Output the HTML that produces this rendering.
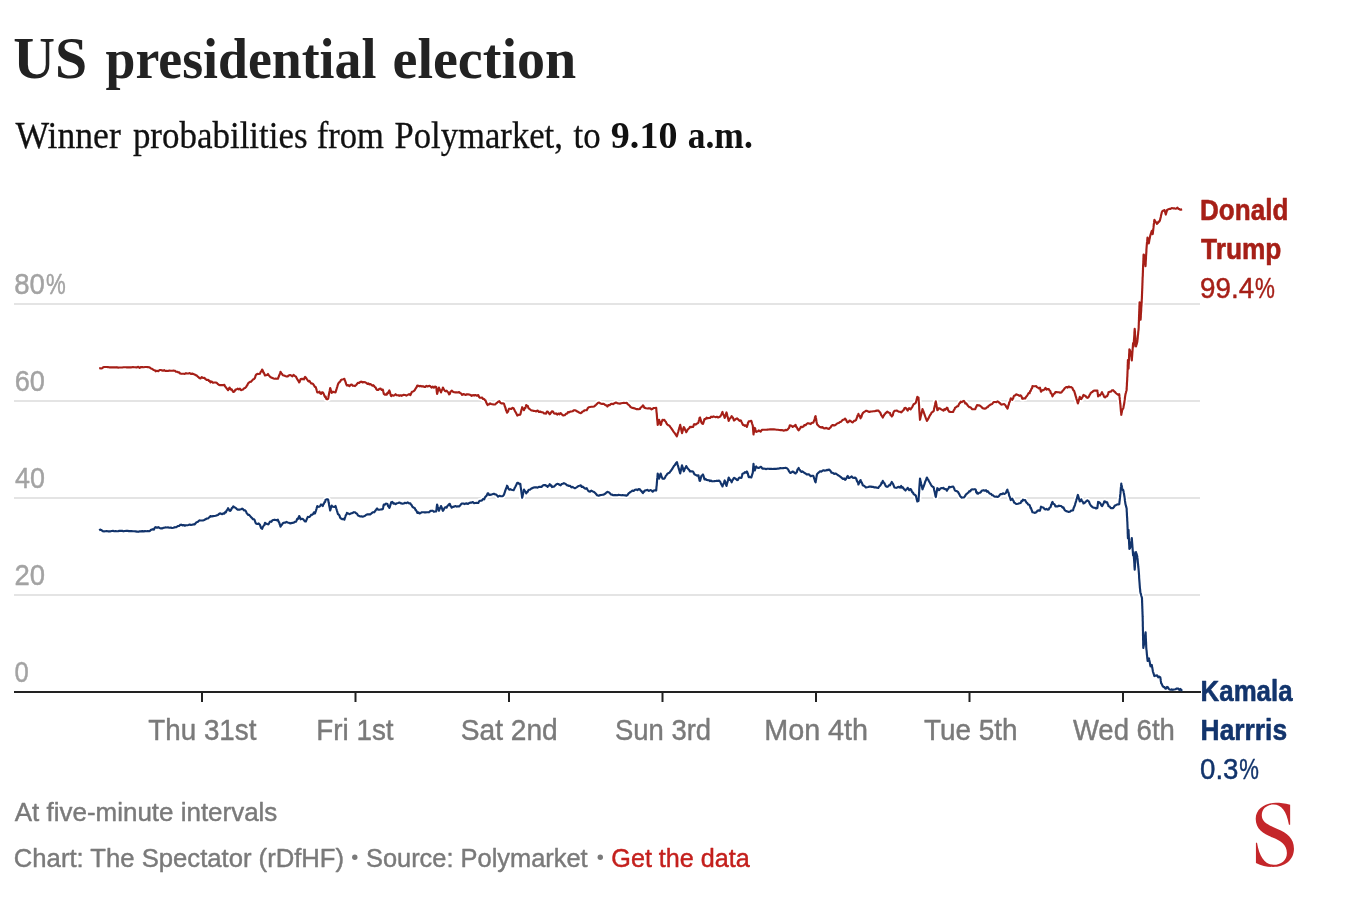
<!DOCTYPE html>
<html><head><meta charset="utf-8"><title>US presidential election</title>
<style>
html,body{margin:0;padding:0;background:#fff;}
body{width:1354px;height:918px;overflow:hidden;position:relative;}
svg{position:absolute;left:0;top:0;display:block;opacity:0.999;will-change:transform;}
text{font-family:"Liberation Sans",sans-serif;}
.serif{font-family:"Liberation Serif",serif;}
.b{font-weight:bold;}
.xl{font-size:28px;fill:#7f7f7f;text-anchor:middle;}
</style></head><body>
<svg width="1354" height="918" viewBox="0 0 1354 918">
<rect width="1354" height="918" fill="#fff"/>
<!-- grid -->
<g fill="#e4e4e4">
<rect x="14" y="303" width="1186" height="2"/>
<rect x="14" y="400" width="1186" height="2"/>
<rect x="14" y="497" width="1186" height="2"/>
<rect x="14" y="594" width="1186" height="2"/>
</g>
<!-- lines -->
<g fill="none" stroke-linejoin="round" stroke-linecap="butt">
<path d="M99.2,530.3 L100.2,529.6 L101.1,529.9 L102.1,530.6 L103.0,531.3 L104.0,531.4 L105.3,531.3 L106.6,531.1 L107.9,531.3 L109.2,531.3 L110.5,531.3 L111.8,531.0 L113.0,530.9 L114.3,531.2 L115.6,531.1 L116.9,531.2 L118.2,531.1 L119.5,530.9 L120.8,530.9 L122.2,530.9 L123.5,531.3 L124.9,531.0 L126.2,530.9 L127.6,530.9 L128.9,531.1 L130.3,531.1 L131.6,531.1 L133.0,531.2 L134.3,531.2 L135.6,531.4 L137.0,531.6 L138.3,531.8 L139.7,531.4 L141.0,531.4 L142.3,531.1 L143.7,531.4 L145.1,531.1 L146.4,531.2 L147.8,531.0 L149.1,531.2 L150.1,530.7 L151.0,529.8 L152.0,529.6 L152.9,529.1 L153.8,529.7 L154.8,527.7 L155.7,527.1 L157.0,527.8 L158.3,527.2 L159.6,528.0 L160.9,528.4 L162.0,528.4 L163.1,527.9 L164.2,527.8 L165.3,527.4 L166.7,527.5 L168.0,527.4 L169.4,527.7 L170.8,527.6 L172.1,528.0 L173.5,527.8 L174.7,527.2 L175.9,527.3 L177.1,526.6 L178.1,526.0 L179.1,525.9 L180.1,524.9 L181.3,524.7 L182.5,525.4 L183.6,525.0 L184.8,525.7 L186.0,525.2 L187.2,525.3 L188.5,525.0 L189.7,524.5 L190.9,525.0 L192.2,524.7 L193.4,524.4 L194.5,524.5 L195.6,523.2 L196.5,522.3 L197.4,522.0 L198.4,521.3 L199.3,520.4 L200.5,520.5 L201.8,520.5 L203.0,520.4 L204.3,520.0 L205.6,519.2 L206.9,518.5 L208.2,518.5 L208.9,517.5 L209.7,517.1 L210.4,516.0 L211.7,516.5 L213.0,516.1 L214.4,516.0 L215.7,515.8 L217.0,515.3 L218.0,514.9 L219.0,514.0 L220.0,513.3 L221.1,513.7 L222.2,514.2 L223.3,513.4 L224.4,513.6 L225.1,512.2 L225.9,512.3 L226.6,510.5 L227.4,509.7 L228.1,508.2 L228.6,509.4 L229.1,509.5 L229.6,510.8 L230.3,510.9 L231.1,509.8 L231.8,508.2 L232.6,507.6 L233.3,506.4 L234.4,507.3 L235.5,507.7 L236.6,508.8 L237.7,509.7 L238.8,509.6 L239.9,509.6 L241.0,509.2 L242.1,508.6 L243.0,509.2 L243.9,510.4 L244.9,510.2 L245.8,511.1 L246.4,512.4 L246.9,513.4 L247.4,513.8 L248.0,514.8 L249.0,514.8 L250.0,515.9 L251.0,517.1 L252.0,518.0 L253.0,519.2 L254.0,519.3 L254.6,520.0 L255.1,521.5 L255.6,522.9 L256.2,523.7 L257.4,524.0 L258.7,523.4 L259.9,524.7 L260.4,526.1 L261.0,527.8 L261.6,528.3 L262.1,528.9 L262.7,527.3 L263.3,526.3 L263.8,525.4 L264.4,525.1 L265.0,522.9 L266.0,523.7 L267.0,523.9 L268.0,524.4 L268.7,524.1 L269.5,522.4 L270.2,521.5 L271.3,521.8 L272.4,520.3 L273.5,520.0 L274.6,519.7 L275.7,520.0 L276.8,520.3 L277.9,519.7 L278.3,521.1 L278.8,522.1 L279.2,522.4 L279.6,524.0 L280.1,525.2 L280.5,526.6 L281.3,525.2 L282.0,524.6 L282.8,523.2 L284.0,522.6 L285.3,522.7 L286.5,521.9 L287.7,522.4 L288.8,522.8 L290.0,523.4 L291.2,523.1 L292.4,522.9 L293.5,522.8 L294.7,521.9 L295.9,521.8 L296.6,520.5 L297.2,518.9 L297.9,519.0 L298.5,517.8 L299.2,516.0 L299.7,517.0 L300.1,518.0 L300.6,519.3 L302.0,518.8 L303.3,519.3 L303.9,520.1 L304.5,520.9 L305.1,521.5 L305.8,521.5 L306.5,519.8 L307.1,518.5 L307.8,516.9 L308.5,517.0 L309.4,517.0 L310.4,516.0 L311.3,514.7 L312.2,514.8 L313.1,514.0 L314.0,512.3 L314.9,513.5 L315.8,511.1 L316.2,509.8 L316.6,508.6 L316.9,507.3 L317.3,506.0 L318.4,506.8 L319.5,506.7 L320.2,505.8 L321.0,504.5 L321.9,505.2 L322.8,506.0 L323.4,504.0 L323.9,503.8 L324.5,502.1 L325.1,502.0 L325.6,499.8 L326.2,499.6 L327.1,499.2 L328.1,499.6 L328.4,501.0 L328.6,502.3 L328.9,503.6 L329.1,505.0 L329.4,506.4 L329.7,507.7 L329.9,509.0 L330.2,510.4 L330.6,509.2 L330.9,507.9 L331.3,506.7 L331.7,505.5 L332.4,506.6 L333.1,506.7 L334.3,507.0 L335.5,506.0 L335.9,507.2 L336.2,508.3 L336.6,509.5 L336.9,510.6 L337.3,511.8 L337.6,512.9 L338.0,514.1 L338.8,514.7 L339.5,515.7 L340.2,517.8 L341.0,518.5 L342.1,519.2 L343.3,518.8 L344.4,519.6 L344.8,518.2 L345.2,517.1 L345.6,515.8 L346.1,514.8 L346.5,514.5 L346.9,512.9 L348.1,513.4 L349.4,514.2 L350.6,513.6 L351.7,513.2 L352.8,512.9 L353.9,512.2 L355.0,512.3 L355.8,513.1 L356.5,513.4 L357.2,514.0 L358.0,515.6 L359.2,516.0 L360.4,516.5 L361.5,516.4 L362.7,516.7 L363.9,516.3 L365.1,515.8 L366.3,514.7 L367.5,514.4 L368.5,514.4 L369.5,514.2 L370.5,514.4 L371.4,513.4 L372.4,512.6 L373.3,512.2 L374.2,512.3 L374.9,511.3 L375.6,510.5 L376.4,509.3 L377.1,508.5 L378.2,509.7 L379.4,509.7 L380.5,509.5 L381.7,509.4 L382.8,508.9 L383.1,507.8 L383.3,506.7 L383.6,505.6 L383.8,504.5 L384.8,504.7 L385.8,503.6 L386.8,503.7 L387.4,503.9 L388.1,506.1 L388.7,506.6 L389.3,507.9 L389.7,507.3 L390.1,505.8 L390.4,505.0 L390.8,503.7 L391.2,502.3 L392.3,501.9 L393.4,503.6 L394.5,503.4 L395.6,504.2 L396.8,503.3 L398.1,503.0 L399.3,502.6 L400.4,503.1 L401.5,503.4 L402.6,503.7 L403.7,503.5 L405.0,502.8 L406.4,503.2 L407.7,502.4 L409.1,503.3 L410.4,503.3 L411.0,504.7 L411.7,505.2 L412.3,506.7 L413.1,507.3 L414.0,507.8 L414.8,508.2 L415.4,509.8 L416.1,510.2 L416.7,511.4 L417.3,512.9 L418.4,512.4 L419.5,513.4 L420.7,512.9 L421.8,512.3 L422.9,512.2 L424.1,512.3 L425.3,512.3 L426.4,512.3 L427.6,512.2 L428.8,512.3 L429.7,511.7 L430.6,510.8 L431.5,510.8 L432.7,510.7 L433.9,511.8 L435.0,511.5 L436.2,511.4 L436.4,510.0 L436.6,508.6 L436.7,507.3 L436.9,505.9 L437.1,504.5 L437.5,505.8 L437.8,507.0 L438.2,508.3 L438.5,509.5 L438.9,510.8 L439.4,509.6 L439.9,508.3 L440.5,507.2 L441.0,506.0 L441.5,507.3 L441.9,508.1 L442.4,509.7 L442.9,510.8 L443.6,509.8 L444.4,508.2 L445.1,507.4 L445.9,507.2 L446.6,507.7 L447.2,506.4 L447.9,505.4 L448.6,505.3 L449.2,504.0 L449.8,503.9 L450.4,505.7 L451.1,506.5 L451.7,507.7 L452.9,506.9 L454.2,506.6 L455.4,506.0 L456.6,506.6 L457.9,506.3 L459.1,506.4 L460.1,505.4 L461.1,504.2 L462.1,503.5 L463.3,503.5 L464.5,504.1 L465.6,503.6 L466.8,503.4 L468.0,504.0 L469.2,503.0 L470.5,502.6 L471.7,502.6 L472.9,502.1 L474.1,503.2 L475.2,503.0 L476.4,502.8 L477.6,503.0 L478.3,502.9 L479.1,501.3 L479.8,500.8 L480.9,500.7 L482.0,500.4 L483.1,499.0 L484.2,499.3 L484.9,497.5 L485.6,496.6 L486.2,496.1 L486.9,495.1 L487.6,493.4 L488.4,493.4 L489.2,494.9 L490.0,495.0 L491.1,494.6 L492.2,494.3 L493.3,493.9 L494.4,493.9 L495.3,494.5 L496.2,494.5 L497.2,495.6 L498.1,496.7 L499.3,495.8 L500.5,496.1 L501.6,496.3 L502.8,496.2 L504.0,494.6 L504.4,493.3 L504.9,491.8 L505.3,490.7 L505.7,489.4 L506.1,488.5 L506.6,487.0 L507.0,485.7 L507.6,486.4 L508.1,488.1 L508.6,488.9 L509.2,489.7 L510.3,489.1 L511.4,489.7 L512.5,490.0 L513.6,490.2 L514.2,489.0 L514.8,487.7 L515.5,486.5 L516.1,485.3 L516.7,484.0 L517.3,482.8 L518.3,482.8 L519.3,484.1 L520.3,483.8 L520.5,485.1 L520.6,486.3 L520.8,487.6 L521.0,488.9 L521.2,490.2 L521.3,491.4 L521.5,492.7 L521.7,494.0 L521.9,495.3 L522.0,496.5 L522.2,497.8 L522.5,496.6 L522.7,495.4 L523.0,494.2 L523.2,493.1 L523.5,491.9 L523.7,490.7 L524.0,489.5 L524.5,490.6 L525.1,491.6 L525.7,491.8 L526.2,493.4 L526.9,492.4 L527.7,491.9 L528.4,490.1 L529.1,489.7 L530.2,489.6 L531.4,488.4 L532.5,488.2 L533.6,487.5 L534.9,487.3 L536.2,487.3 L537.6,487.6 L538.9,486.8 L540.2,486.8 L541.5,487.0 L542.8,485.6 L544.1,485.1 L545.4,485.0 L546.1,485.9 L546.9,485.8 L547.6,486.8 L548.3,485.7 L549.1,485.4 L549.8,484.1 L550.5,485.6 L551.3,485.4 L552.0,487.1 L553.0,486.7 L554.1,486.6 L555.1,485.6 L556.2,484.4 L557.2,483.8 L558.3,484.0 L559.5,484.7 L560.6,485.3 L561.7,484.1 L562.8,483.7 L563.9,483.1 L564.9,483.6 L565.9,484.2 L567.0,485.3 L568.0,485.3 L569.0,486.0 L570.2,485.8 L571.4,487.3 L572.5,486.9 L573.7,487.6 L574.9,488.2 L576.1,487.6 L577.3,486.9 L578.4,486.0 L579.6,485.8 L580.8,485.3 L581.7,486.9 L582.6,486.5 L583.6,487.4 L584.5,488.2 L585.6,488.7 L586.7,488.2 L587.4,489.5 L588.0,490.5 L588.7,491.2 L590.1,491.7 L591.4,490.7 L592.8,491.4 L594.1,491.9 L595.1,492.9 L596.1,494.0 L597.1,495.2 L598.1,495.6 L599.2,495.6 L600.3,495.1 L601.5,495.0 L602.6,494.7 L603.7,494.6 L604.6,494.0 L605.5,493.5 L606.5,492.4 L607.4,491.9 L608.5,492.2 L609.6,492.9 L610.8,494.4 L611.9,494.6 L613.2,495.2 L614.5,495.1 L615.9,495.1 L617.2,495.2 L618.5,494.9 L619.9,495.0 L621.2,495.2 L622.5,495.1 L623.9,495.3 L625.2,495.4 L626.6,495.6 L627.6,494.9 L628.6,493.4 L629.6,492.7 L630.6,491.9 L631.5,491.4 L632.5,490.5 L633.7,490.9 L635.0,489.8 L636.2,489.6 L637.4,490.1 L638.7,489.1 L639.9,489.4 L640.6,490.5 L641.4,491.0 L642.1,492.1 L642.9,493.1 L643.5,491.5 L644.2,491.7 L644.8,490.5 L646.2,490.2 L647.5,489.9 L648.9,491.0 L650.3,490.0 L651.5,490.4 L652.7,491.7 L653.8,490.5 L655.0,490.3 L656.2,490.5 L656.3,489.2 L656.4,487.9 L656.5,486.6 L656.7,485.3 L656.8,484.0 L656.9,482.7 L657.0,481.3 L657.1,480.0 L657.2,478.7 L657.4,477.4 L657.5,476.1 L657.6,474.8 L657.7,473.5 L658.1,474.8 L658.4,476.1 L658.8,477.3 L659.1,478.6 L659.5,477.3 L659.9,476.1 L660.2,474.8 L660.6,473.5 L661.1,474.8 L661.5,476.7 L662.0,477.3 L662.5,478.6 L663.4,478.8 L664.3,478.6 L665.0,477.6 L665.8,475.9 L666.5,475.1 L667.3,473.9 L668.4,473.1 L669.5,472.7 L670.2,471.5 L671.0,470.7 L671.7,469.6 L672.5,468.5 L673.2,467.3 L673.9,466.1 L674.7,465.3 L675.4,464.2 L676.2,462.9 L676.9,462.1 L677.3,463.4 L677.6,464.6 L678.0,465.9 L678.4,467.2 L678.7,468.4 L679.1,469.7 L679.5,471.0 L679.8,472.2 L680.2,473.5 L680.5,472.1 L680.8,470.8 L681.1,469.4 L681.4,468.0 L681.7,466.7 L682.0,465.3 L682.4,466.5 L682.7,467.7 L683.1,468.9 L683.4,470.1 L683.8,471.3 L684.3,470.2 L684.8,468.6 L685.2,468.2 L685.7,467.2 L686.2,466.1 L687.0,467.3 L687.7,468.4 L688.5,469.4 L689.2,469.9 L690.0,471.5 L691.0,471.3 L692.0,471.3 L693.0,471.5 L693.5,472.3 L693.9,473.4 L694.4,474.2 L695.6,474.9 L696.9,475.7 L698.1,475.4 L698.5,475.4 L698.9,477.8 L699.2,478.6 L699.6,480.8 L700.0,480.9 L700.4,479.6 L700.8,478.3 L701.1,477.0 L701.5,475.7 L702.2,475.5 L703.0,474.5 L703.4,475.7 L703.8,476.9 L704.1,478.2 L704.5,479.4 L705.6,478.9 L706.6,480.0 L707.7,480.1 L708.8,480.2 L710.0,481.1 L711.1,480.6 L712.2,481.3 L713.4,481.2 L714.6,481.1 L715.7,481.0 L716.9,480.7 L718.1,480.9 L719.2,480.6 L720.3,481.9 L720.8,483.2 L721.4,484.6 L722.0,485.3 L722.5,486.5 L722.9,484.9 L723.4,484.1 L723.8,483.1 L724.3,481.5 L724.7,480.4 L725.1,481.5 L725.4,482.6 L725.8,483.8 L726.1,484.9 L726.5,486.0 L726.8,484.8 L727.1,483.6 L727.4,482.4 L727.8,481.1 L728.1,479.9 L728.4,478.7 L728.7,477.5 L729.3,478.5 L729.9,480.0 L730.5,479.9 L731.1,481.1 L731.7,482.3 L732.3,480.4 L732.9,479.8 L733.4,478.7 L734.0,477.9 L735.0,478.2 L736.0,479.1 L737.0,480.1 L737.8,480.0 L738.7,478.3 L739.5,477.5 L740.2,477.7 L741.0,477.9 L741.5,477.7 L742.0,475.7 L742.4,473.9 L742.9,473.5 L743.9,473.2 L744.9,472.1 L745.9,472.7 L746.9,471.5 L747.3,472.1 L747.7,473.5 L748.0,474.2 L748.4,476.1 L748.8,477.2 L750.0,476.9 L751.3,477.5 L751.7,476.3 L752.0,475.1 L752.4,473.9 L752.8,472.7 L752.9,471.4 L753.0,470.2 L753.1,468.9 L753.2,467.7 L753.3,466.4 L753.4,465.2 L753.5,463.9 L753.7,465.2 L754.0,466.5 L754.2,467.9 L754.5,469.2 L754.7,470.5 L755.1,469.5 L755.5,468.3 L755.8,467.2 L756.2,466.5 L757.0,467.4 L757.9,467.9 L758.7,468.0 L759.7,467.4 L760.6,466.8 L761.5,467.3 L762.4,468.6 L763.7,468.5 L765.0,468.7 L766.3,469.1 L767.5,468.7 L768.8,468.8 L770.1,468.8 L771.4,468.8 L772.7,469.0 L774.0,468.8 L775.3,468.8 L776.6,468.8 L777.9,468.6 L779.3,468.4 L780.6,468.1 L781.9,468.2 L783.2,468.1 L784.5,468.0 L785.6,467.8 L786.7,468.2 L787.8,469.0 L788.4,470.0 L789.1,471.4 L789.8,472.3 L790.4,473.0 L791.5,472.3 L792.7,471.5 L793.7,472.0 L794.6,473.0 L795.6,473.5 L796.2,472.4 L796.8,472.2 L797.4,469.7 L798.0,468.9 L798.6,468.0 L799.3,469.7 L800.1,470.2 L800.8,471.5 L801.5,472.0 L802.3,471.3 L803.4,472.1 L804.5,473.0 L805.6,473.5 L806.7,474.5 L808.0,474.2 L809.3,474.6 L810.7,476.2 L812.0,475.7 L813.3,475.7 L813.8,477.3 L814.2,478.7 L814.7,479.9 L815.1,481.4 L815.6,482.3 L815.8,480.9 L816.1,479.6 L816.3,478.2 L816.5,476.9 L816.8,475.6 L817.0,474.2 L818.0,473.1 L819.0,472.2 L820.0,471.3 L821.2,471.6 L822.4,470.8 L823.5,470.3 L824.7,470.6 L825.9,470.5 L827.0,469.9 L828.0,470.1 L829.1,469.5 L829.9,470.3 L830.7,471.2 L831.5,472.7 L832.8,472.8 L834.2,473.9 L835.5,473.5 L836.6,474.2 L837.7,475.0 L838.8,475.7 L839.9,476.4 L840.9,477.2 L842.0,478.1 L843.0,479.0 L844.1,478.4 L845.1,479.8 L845.8,479.4 L846.5,477.9 L847.1,476.8 L847.8,476.0 L848.6,478.0 L849.5,477.9 L850.6,477.1 L851.7,476.4 L852.8,477.8 L854.0,477.9 L855.1,477.6 L856.2,478.6 L856.6,480.0 L857.1,481.3 L857.5,482.1 L858.0,482.3 L858.4,484.5 L859.0,483.3 L859.5,482.2 L860.0,480.7 L860.6,480.1 L861.0,481.9 L861.5,482.1 L861.9,483.1 L862.4,484.1 L862.8,485.3 L863.8,485.7 L864.8,486.4 L865.8,487.5 L867.0,487.2 L868.3,487.0 L869.5,486.5 L870.8,486.6 L872.0,486.9 L873.3,486.9 L874.5,487.4 L875.8,487.4 L877.0,487.7 L878.3,487.9 L879.0,486.7 L879.8,486.0 L880.5,485.3 L881.1,484.3 L881.6,482.6 L882.2,483.0 L882.8,480.9 L883.3,481.8 L883.9,482.7 L884.5,483.3 L885.0,484.5 L885.7,485.9 L886.5,486.6 L887.2,486.8 L888.1,486.4 L889.1,485.2 L890.0,485.3 L890.6,484.0 L891.2,483.3 L891.8,481.9 L892.3,482.8 L892.8,483.6 L893.4,484.8 L893.9,486.1 L894.4,487.5 L895.5,487.7 L896.6,487.8 L897.7,487.1 L898.9,486.9 L900.0,487.6 L901.1,486.0 L902.0,487.6 L902.9,487.4 L903.7,488.8 L904.6,489.6 L905.5,490.5 L906.2,489.5 L907.0,489.1 L907.7,487.8 L908.2,488.5 L908.7,489.3 L909.2,490.2 L910.0,489.4 L910.7,489.0 L911.3,490.0 L911.9,491.6 L912.4,492.4 L913.0,492.5 L913.6,494.1 L914.7,494.7 L915.8,495.6 L916.1,496.8 L916.4,498.0 L916.7,499.1 L917.0,500.3 L917.3,501.5 L918.5,500.8 L918.6,499.4 L918.7,498.0 L918.8,496.6 L918.9,495.2 L919.0,493.9 L919.1,492.5 L919.2,491.1 L919.2,489.7 L919.3,488.3 L919.4,486.9 L919.5,485.5 L919.6,484.2 L919.7,482.8 L919.8,481.4 L919.9,480.0 L920.0,478.6 L920.3,479.9 L920.6,481.3 L920.9,482.6 L921.2,484.0 L921.6,485.3 L921.9,486.6 L922.2,488.0 L922.5,489.3 L923.0,487.9 L923.5,486.8 L924.0,485.4 L924.5,484.2 L924.9,482.7 L925.4,481.2 L925.9,480.2 L926.4,478.8 L926.9,477.5 L927.6,478.8 L928.3,479.8 L929.0,481.2 L929.6,482.3 L930.3,483.5 L931.0,484.8 L931.7,486.0 L932.7,486.7 L933.6,487.2 L933.9,488.4 L934.1,489.7 L934.4,490.9 L934.7,492.1 L935.0,493.4 L935.2,494.6 L935.5,495.9 L935.8,497.1 L936.0,495.8 L936.2,494.6 L936.4,493.3 L936.7,492.0 L936.9,490.7 L937.1,489.5 L937.3,488.2 L938.1,488.8 L939.0,490.2 L940.1,488.9 L941.2,488.0 L942.4,488.2 L943.5,487.8 L944.4,489.0 L945.2,489.2 L946.0,489.0 L946.9,490.7 L947.5,489.4 L948.0,488.9 L948.5,488.5 L949.1,486.8 L950.5,487.2 L951.8,486.8 L953.2,486.5 L953.7,487.6 L954.1,488.1 L954.5,489.3 L955.0,490.5 L956.1,490.9 L957.1,491.3 L958.2,492.2 L958.8,493.4 L959.4,494.3 L960.0,495.7 L960.6,496.7 L961.7,497.6 L962.8,497.5 L963.9,497.5 L964.6,496.8 L965.3,495.6 L966.1,494.2 L966.8,493.9 L967.5,493.1 L968.4,492.6 L969.3,491.2 L970.2,491.3 L971.1,489.9 L972.0,489.3 L973.1,489.5 L974.3,489.2 L975.4,489.3 L975.8,489.8 L976.2,492.2 L976.7,491.9 L977.1,493.4 L978.1,493.6 L979.1,492.7 L980.1,492.7 L980.8,492.1 L981.6,490.9 L982.3,490.5 L983.5,490.2 L984.8,490.7 L986.0,490.2 L986.9,491.7 L987.8,491.2 L988.6,492.3 L989.5,493.4 L990.4,493.7 L991.3,494.1 L992.2,495.3 L993.2,495.4 L994.1,496.4 L995.2,496.7 L996.4,496.6 L997.5,496.9 L998.6,496.4 L999.3,495.8 L1000.1,494.4 L1000.8,494.1 L1001.9,494.2 L1003.0,493.3 L1004.1,493.9 L1005.2,493.4 L1005.8,493.1 L1006.3,491.8 L1006.9,490.4 L1007.4,489.7 L1007.8,491.3 L1008.1,492.0 L1008.5,492.5 L1008.9,494.0 L1009.2,495.9 L1009.6,496.4 L1010.0,497.6 L1010.4,498.9 L1010.8,500.1 L1011.5,499.2 L1012.3,498.6 L1012.8,499.7 L1013.2,500.5 L1013.6,500.9 L1014.1,502.6 L1015.0,502.9 L1015.8,503.7 L1016.7,504.0 L1018.0,503.8 L1019.4,503.3 L1020.7,503.0 L1021.4,501.0 L1022.2,501.2 L1022.9,499.6 L1024.0,500.2 L1025.2,500.1 L1025.9,501.6 L1026.7,502.8 L1027.4,503.2 L1028.1,504.5 L1028.8,504.6 L1029.6,505.2 L1030.1,506.5 L1030.6,508.3 L1031.0,508.0 L1031.5,509.8 L1032.0,510.8 L1032.5,512.3 L1033.7,512.5 L1035.0,512.9 L1036.2,512.3 L1036.9,511.5 L1037.7,510.5 L1038.4,510.4 L1039.2,510.6 L1039.9,510.8 L1040.2,509.8 L1040.5,508.8 L1040.7,507.7 L1041.0,506.7 L1042.1,507.3 L1043.3,507.5 L1044.4,508.9 L1045.5,509.4 L1046.6,508.9 L1047.7,509.6 L1048.8,509.4 L1049.5,507.8 L1050.3,507.4 L1050.7,506.8 L1051.2,504.6 L1051.6,504.6 L1052.1,502.3 L1052.5,502.0 L1053.2,503.7 L1054.0,504.0 L1054.7,504.6 L1055.4,506.4 L1056.6,506.2 L1057.8,506.4 L1058.9,505.7 L1060.1,505.9 L1061.3,506.0 L1062.0,507.0 L1062.8,507.7 L1063.5,507.4 L1064.3,509.3 L1065.0,510.4 L1066.2,511.1 L1067.5,511.5 L1068.7,511.9 L1069.9,511.8 L1071.2,510.6 L1072.4,510.4 L1073.0,510.4 L1073.5,508.5 L1074.0,507.2 L1074.6,506.0 L1075.0,504.8 L1075.3,503.5 L1075.7,502.3 L1076.1,501.1 L1076.4,499.8 L1076.8,498.6 L1077.2,497.4 L1077.5,496.1 L1077.9,494.9 L1078.3,496.2 L1078.7,497.5 L1079.0,498.9 L1079.4,500.2 L1079.8,501.5 L1080.5,500.9 L1081.3,499.3 L1081.8,500.8 L1082.4,501.4 L1083.0,502.2 L1083.5,503.5 L1084.5,503.1 L1085.5,502.1 L1086.5,501.1 L1087.4,500.3 L1088.3,501.0 L1089.0,501.7 L1089.6,503.5 L1090.2,504.5 L1090.9,505.6 L1091.8,506.4 L1092.6,507.2 L1093.5,507.6 L1094.8,507.8 L1096.1,508.5 L1097.4,507.9 L1097.5,506.7 L1097.7,505.5 L1097.8,504.3 L1098.0,503.1 L1098.1,501.9 L1099.0,502.2 L1100.0,503.0 L1100.7,503.9 L1101.3,505.3 L1102.0,506.2 L1102.6,505.3 L1103.2,504.1 L1103.7,503.2 L1104.3,501.4 L1105.3,501.5 L1106.2,502.5 L1107.2,502.3 L1107.6,503.8 L1108.1,504.5 L1108.5,506.2 L1109.7,506.6 L1110.8,508.1 L1111.9,508.0 L1113.1,508.2 L1113.9,507.2 L1114.8,505.5 L1115.6,505.4 L1116.4,504.9 L1117.3,504.4 L1118.3,504.5 L1119.2,504.3 L1119.4,503.0 L1119.5,501.7 L1119.7,500.3 L1119.8,499.0 L1120.0,497.7 L1120.1,496.4 L1120.2,495.1 L1120.4,493.9 L1120.5,492.6 L1120.6,491.3 L1120.7,490.0 L1120.8,488.7 L1120.9,487.4 L1121.1,486.2 L1121.2,484.9 L1121.3,483.6 L1121.5,484.9 L1121.8,486.1 L1122.0,487.4 L1122.3,488.6 L1122.8,490.2 L1123.2,489.9 L1123.5,491.2 L1123.7,492.5 L1124.0,493.8 L1124.2,495.1 L1124.4,496.4 L1124.6,497.7 L1124.8,499.0 L1124.9,500.4 L1125.1,501.7 L1125.3,503.0 L1125.5,504.3 L1125.9,505.6 L1126.2,506.9 L1126.6,508.2 L1126.7,509.5 L1126.7,510.8 L1126.8,512.1 L1126.9,513.4 L1126.9,514.7 L1127.0,516.0 L1127.1,517.4 L1127.2,518.7 L1127.2,520.0 L1127.3,521.3 L1127.4,522.6 L1127.4,523.9 L1127.5,525.2 L1127.5,526.5 L1127.6,527.8 L1127.6,529.1 L1127.7,530.4 L1127.7,531.8 L1127.7,533.1 L1127.8,534.4 L1127.8,535.7 L1127.9,537.0 L1127.9,538.3 L1128.0,537.1 L1128.1,535.9 L1128.2,534.7 L1128.2,533.4 L1128.3,532.2 L1128.4,531.0 L1128.5,529.8 L1128.6,531.2 L1128.6,532.5 L1128.7,533.9 L1128.8,535.3 L1128.8,536.7 L1128.9,538.0 L1129.0,539.4 L1129.0,540.8 L1129.1,542.1 L1129.1,543.5 L1129.2,544.9 L1129.3,546.3 L1129.3,547.6 L1129.4,549.0 L1129.9,548.3 L1130.3,547.2 L1130.8,546.1 L1131.0,544.8 L1131.1,543.4 L1131.3,542.0 L1131.5,540.7 L1131.6,539.4 L1131.8,538.0 L1131.9,539.3 L1132.0,540.7 L1132.1,542.0 L1132.2,543.3 L1132.3,544.7 L1132.4,546.0 L1132.5,547.3 L1132.6,548.6 L1132.7,550.0 L1132.8,551.3 L1132.9,552.6 L1133.0,554.0 L1133.1,555.3 L1133.3,554.2 L1133.4,553.1 L1133.6,552.0 L1133.7,553.4 L1133.8,554.7 L1133.9,556.1 L1133.9,557.4 L1134.0,558.8 L1134.1,560.1 L1134.2,561.5 L1134.3,562.8 L1134.4,564.2 L1134.4,565.5 L1134.5,566.9 L1134.6,568.2 L1134.7,569.6 L1134.8,568.3 L1134.9,567.0 L1135.0,565.7 L1135.0,564.4 L1135.1,563.1 L1135.2,561.8 L1135.3,560.5 L1135.4,559.3 L1135.5,558.1 L1135.6,556.9 L1135.7,555.6 L1135.8,554.4 L1135.9,553.2 L1136.0,552.0 L1136.3,553.1 L1136.7,554.3 L1137.0,555.5 L1137.3,556.6 L1137.4,557.9 L1137.6,559.2 L1137.7,560.5 L1137.8,561.8 L1137.9,563.1 L1138.1,564.4 L1138.2,565.7 L1138.3,567.0 L1138.5,568.3 L1138.6,569.6 L1138.7,570.9 L1138.8,572.2 L1138.9,573.4 L1139.0,574.7 L1139.1,576.0 L1139.1,577.3 L1139.2,578.6 L1139.3,579.9 L1139.4,581.1 L1139.5,582.4 L1139.6,583.7 L1139.7,585.1 L1139.8,586.4 L1139.9,587.8 L1140.1,589.1 L1140.2,590.4 L1140.3,591.8 L1140.6,593.1 L1141.0,594.4 L1141.3,595.7 L1141.7,597.0 L1142.0,598.3 L1142.0,599.7 L1142.1,601.1 L1142.1,602.5 L1142.2,603.9 L1142.2,605.3 L1142.3,606.7 L1142.3,608.1 L1142.4,609.4 L1142.4,610.8 L1142.5,612.2 L1142.5,613.6 L1142.6,615.0 L1142.6,616.4 L1142.7,617.8 L1142.7,619.2 L1142.7,620.6 L1142.8,621.9 L1142.8,623.3 L1142.8,624.7 L1142.8,626.1 L1142.9,627.4 L1142.9,628.8 L1142.9,630.2 L1143.0,631.5 L1143.0,632.9 L1143.0,634.3 L1143.0,635.7 L1143.1,637.0 L1143.1,638.4 L1143.1,639.8 L1143.2,641.1 L1143.2,642.5 L1143.2,643.9 L1143.2,645.3 L1143.3,646.6 L1143.3,648.0 L1143.5,646.7 L1143.8,645.4 L1144.0,644.0 L1144.2,642.7 L1144.4,641.4 L1144.5,640.1 L1144.7,638.8 L1144.9,637.5 L1145.1,636.2 L1145.2,634.9 L1145.4,633.6 L1145.6,632.3 L1145.7,633.6 L1145.7,634.9 L1145.8,636.2 L1145.8,637.5 L1145.9,638.8 L1145.9,640.1 L1146.0,641.5 L1146.1,642.8 L1146.1,644.1 L1146.2,645.4 L1146.2,646.7 L1146.3,648.0 L1146.4,649.3 L1146.6,650.6 L1146.7,651.9 L1146.8,653.2 L1146.9,654.5 L1147.1,655.8 L1147.2,657.1 L1147.3,658.4 L1147.5,659.7 L1147.6,661.0 L1148.1,659.7 L1148.5,658.8 L1149.0,658.4 L1149.2,659.7 L1149.5,661.0 L1149.8,662.3 L1150.0,663.7 L1150.2,665.0 L1150.5,666.3 L1151.2,665.6 L1151.8,665.0 L1152.0,666.3 L1152.2,667.6 L1152.5,668.9 L1152.7,670.2 L1152.9,671.5 L1153.3,672.6 L1153.7,673.8 L1154.0,675.0 L1154.4,676.1 L1155.8,675.6 L1157.1,675.4 L1158.2,677.3 L1159.2,676.6 L1160.3,677.4 L1160.5,678.6 L1160.7,679.8 L1160.8,680.9 L1161.0,682.1 L1161.2,683.3 L1161.8,684.0 L1162.4,685.7 L1163.0,686.3 L1163.6,687.2 L1164.5,687.1 L1165.3,688.6 L1166.2,688.5 L1166.7,687.6 L1167.1,686.9 L1167.9,687.2 L1168.7,688.8 L1169.5,689.5 L1170.7,689.7 L1171.8,689.4 L1172.9,689.8 L1174.1,689.5 L1175.4,689.3 L1176.7,688.5 L1177.6,688.6 L1178.4,688.5 L1179.3,689.8 L1180.4,689.0 L1181.4,690.2 L1182.5,690.5" stroke="#fff" stroke-width="5.5"/>
<path d="M99.2,368.1 L100.2,368.2 L101.1,368.5 L102.1,368.2 L103.0,367.4 L104.0,367.0 L105.3,367.0 L106.6,367.0 L107.9,367.1 L109.2,367.3 L110.5,367.3 L111.8,367.4 L113.0,367.3 L114.3,367.4 L115.6,367.4 L116.9,367.2 L118.2,367.6 L119.5,367.5 L120.8,367.5 L122.2,367.5 L123.5,367.2 L124.9,367.2 L126.2,367.3 L127.6,367.3 L128.9,367.3 L130.3,367.3 L131.6,367.3 L133.0,367.1 L134.3,367.2 L135.6,367.3 L137.0,367.3 L138.3,366.8 L139.7,367.8 L141.0,367.0 L142.3,367.1 L143.7,367.2 L145.1,367.0 L146.4,367.0 L147.8,367.1 L149.1,367.2 L150.1,367.7 L151.0,368.5 L152.0,368.8 L152.9,369.5 L153.8,369.9 L154.8,370.3 L155.7,371.3 L157.0,370.8 L158.3,371.2 L159.6,370.0 L160.9,370.0 L162.0,370.4 L163.1,370.7 L164.2,370.1 L165.3,371.0 L166.7,370.9 L168.0,371.0 L169.4,370.5 L170.8,370.7 L172.1,370.7 L173.5,370.6 L174.7,370.7 L175.9,371.6 L177.1,371.8 L178.1,372.3 L179.1,372.3 L180.1,373.5 L181.3,373.8 L182.5,373.7 L183.6,373.7 L184.8,373.9 L186.0,373.2 L187.2,373.5 L188.5,373.5 L189.7,373.1 L190.9,374.0 L192.2,373.6 L193.4,374.0 L194.5,374.4 L195.6,375.2 L196.5,375.4 L197.4,376.2 L198.4,377.1 L199.3,378.0 L200.5,378.5 L201.8,377.1 L203.0,378.0 L204.3,377.9 L205.6,379.1 L206.9,380.0 L208.2,379.9 L208.9,381.0 L209.7,380.8 L210.4,382.4 L211.7,381.5 L213.0,382.8 L214.4,382.5 L215.7,382.5 L217.0,383.1 L218.0,384.2 L219.0,384.9 L220.0,385.1 L221.1,385.1 L222.2,385.1 L223.3,385.1 L224.4,384.8 L225.1,386.5 L225.9,387.2 L226.6,388.3 L227.4,389.4 L228.1,390.2 L228.6,388.7 L229.1,389.0 L229.6,387.6 L230.3,388.9 L231.1,389.6 L231.8,389.4 L232.6,390.9 L233.3,392.0 L234.4,391.5 L235.5,389.6 L236.6,389.4 L237.7,388.7 L238.8,389.4 L239.9,388.7 L241.0,390.2 L242.1,389.8 L243.0,389.4 L243.9,388.5 L244.9,388.1 L245.8,387.3 L246.4,386.6 L246.9,385.5 L247.4,385.0 L248.0,383.6 L249.0,382.6 L250.0,381.9 L251.0,381.8 L252.0,380.6 L253.0,379.5 L254.0,379.1 L254.6,378.4 L255.1,377.5 L255.6,375.6 L256.2,374.7 L257.4,373.8 L258.7,374.0 L259.9,373.7 L260.4,372.6 L261.0,371.5 L261.6,371.1 L262.1,369.5 L262.7,370.3 L263.3,372.4 L263.8,372.6 L264.4,374.0 L265.0,375.5 L266.0,375.3 L267.0,375.0 L268.0,374.0 L268.7,375.3 L269.5,376.1 L270.2,376.9 L271.3,377.4 L272.4,377.9 L273.5,378.5 L274.6,378.7 L275.7,378.6 L276.8,378.8 L277.9,378.7 L278.3,377.8 L278.8,376.4 L279.2,375.6 L279.6,374.3 L280.1,373.8 L280.5,371.8 L281.3,373.1 L282.0,373.9 L282.8,375.2 L284.0,375.5 L285.3,376.1 L286.5,376.5 L287.7,376.4 L288.8,375.4 L290.0,375.0 L291.2,375.5 L292.4,376.4 L293.5,374.9 L294.7,375.8 L295.9,376.6 L296.6,377.9 L297.2,379.1 L297.9,380.2 L298.5,381.1 L299.2,382.4 L299.7,381.6 L300.1,380.3 L300.6,379.1 L302.0,378.9 L303.3,379.1 L303.9,379.4 L304.5,377.8 L305.1,376.9 L305.8,377.6 L306.5,378.7 L307.1,379.5 L307.8,380.5 L308.5,381.4 L309.4,380.8 L310.4,382.3 L311.3,383.5 L312.2,383.6 L313.1,384.0 L314.0,385.4 L314.9,386.8 L315.8,387.3 L316.2,388.6 L316.6,389.9 L316.9,391.1 L317.3,392.4 L318.4,392.4 L319.5,391.7 L320.2,393.4 L321.0,393.9 L321.9,392.4 L322.8,392.4 L323.4,393.3 L323.9,394.4 L324.5,395.9 L325.1,397.1 L325.6,396.6 L326.2,398.8 L327.1,399.3 L328.1,398.8 L328.4,397.4 L328.6,396.1 L328.9,394.8 L329.1,393.4 L329.4,392.1 L329.7,390.7 L329.9,389.4 L330.2,388.0 L330.6,389.2 L330.9,390.4 L331.3,391.7 L331.7,392.9 L332.4,391.7 L333.1,391.7 L334.3,392.3 L335.5,392.4 L335.9,391.2 L336.2,390.1 L336.6,388.9 L336.9,387.8 L337.3,386.6 L337.6,385.5 L338.0,384.3 L338.8,382.6 L339.5,382.2 L340.2,381.5 L341.0,379.9 L342.1,379.5 L343.3,379.2 L344.4,378.8 L344.8,380.3 L345.2,381.1 L345.6,382.1 L346.1,383.9 L346.5,384.8 L346.9,385.5 L348.1,385.1 L349.4,386.2 L350.6,384.8 L351.7,384.6 L352.8,385.8 L353.9,385.7 L355.0,386.1 L355.8,385.3 L356.5,384.7 L357.2,383.7 L358.0,382.8 L359.2,382.9 L360.4,381.9 L361.5,381.7 L362.7,382.5 L363.9,382.1 L365.1,382.3 L366.3,382.9 L367.5,384.0 L368.5,383.4 L369.5,384.5 L370.5,384.0 L371.4,384.8 L372.4,385.7 L373.3,385.2 L374.2,386.1 L374.9,387.1 L375.6,387.5 L376.4,389.3 L377.1,389.9 L378.2,390.0 L379.4,388.7 L380.5,388.6 L381.7,389.9 L382.8,389.5 L383.1,390.6 L383.3,391.7 L383.6,392.8 L383.8,393.9 L384.8,394.6 L385.8,394.4 L386.8,394.7 L387.4,392.8 L388.1,393.2 L388.7,391.5 L389.3,390.5 L389.7,391.4 L390.1,392.9 L390.4,394.0 L390.8,395.6 L391.2,396.1 L392.3,395.2 L393.4,395.6 L394.5,395.3 L395.6,394.2 L396.8,395.3 L398.1,395.2 L399.3,395.8 L400.4,395.3 L401.5,395.8 L402.6,395.2 L403.7,394.9 L405.0,395.0 L406.4,395.6 L407.7,394.9 L409.1,394.1 L410.4,395.1 L411.0,393.8 L411.7,392.1 L412.3,391.7 L413.1,391.5 L414.0,390.8 L414.8,390.2 L415.4,388.8 L416.1,387.8 L416.7,387.0 L417.3,385.5 L418.4,385.7 L419.5,386.3 L420.7,385.9 L421.8,386.5 L422.9,386.2 L424.1,386.8 L425.3,386.8 L426.4,385.9 L427.6,386.5 L428.8,386.1 L429.7,385.8 L430.6,386.6 L431.5,387.6 L432.7,386.6 L433.9,387.7 L435.0,386.6 L436.2,387.0 L436.4,388.4 L436.6,389.8 L436.7,391.1 L436.9,392.5 L437.1,393.9 L437.5,392.6 L437.8,391.4 L438.2,390.1 L438.5,388.9 L438.9,387.6 L439.4,388.8 L439.9,389.9 L440.5,391.2 L441.0,392.4 L441.5,391.0 L441.9,390.1 L442.4,389.6 L442.9,387.6 L443.6,388.8 L444.4,390.1 L445.1,391.0 L445.9,391.3 L446.6,390.7 L447.2,391.5 L447.9,392.0 L448.6,393.2 L449.2,394.4 L449.8,393.9 L450.4,391.9 L451.1,391.4 L451.7,390.7 L452.9,391.7 L454.2,392.2 L455.4,392.4 L456.6,392.3 L457.9,392.5 L459.1,392.0 L460.1,393.0 L461.1,393.4 L462.1,394.9 L463.3,394.1 L464.5,394.4 L465.6,395.0 L466.8,394.3 L468.0,394.4 L469.2,394.5 L470.5,395.0 L471.7,395.8 L472.9,395.1 L474.1,395.6 L475.2,395.1 L476.4,395.6 L477.6,395.4 L478.3,395.1 L479.1,397.0 L479.8,397.6 L480.9,397.7 L482.0,397.5 L483.1,399.0 L484.2,399.1 L484.9,400.2 L485.6,400.5 L486.2,402.3 L486.9,403.9 L487.6,405.0 L488.4,404.3 L489.2,404.3 L490.0,403.4 L491.1,404.0 L492.2,404.2 L493.3,404.4 L494.4,404.5 L495.3,404.4 L496.2,403.4 L497.2,402.6 L498.1,401.7 L499.3,401.2 L500.5,402.9 L501.6,403.5 L502.8,403.3 L504.0,403.8 L504.4,405.0 L504.9,406.6 L505.3,407.4 L505.7,408.9 L506.1,410.5 L506.6,411.3 L507.0,412.7 L507.6,412.0 L508.1,411.5 L508.6,409.6 L509.2,408.7 L510.3,408.8 L511.4,408.8 L512.5,407.9 L513.6,408.2 L514.2,409.4 L514.8,410.7 L515.5,412.0 L516.1,413.1 L516.7,414.3 L517.3,415.6 L518.3,414.8 L519.3,414.8 L520.3,414.6 L520.6,413.4 L520.9,412.1 L521.2,410.9 L521.6,409.7 L521.9,408.4 L522.2,407.2 L522.8,408.6 L523.4,409.2 L524.0,410.2 L524.4,408.8 L524.9,407.8 L525.3,408.2 L525.8,406.5 L526.2,405.0 L526.9,406.2 L527.7,405.8 L528.4,408.0 L529.1,408.7 L530.2,409.5 L531.4,410.5 L532.5,410.5 L533.6,410.9 L534.9,411.0 L536.2,411.4 L537.6,410.5 L538.9,411.9 L540.2,411.6 L541.5,412.2 L542.8,412.2 L544.1,413.5 L545.4,413.4 L546.1,413.6 L546.9,411.6 L547.6,411.6 L548.3,412.2 L549.1,413.5 L549.8,414.3 L550.5,413.4 L551.3,412.1 L552.0,411.3 L553.0,411.6 L554.1,413.5 L555.1,413.7 L556.2,413.4 L557.2,414.6 L558.3,413.5 L559.5,414.3 L560.6,413.1 L561.7,414.2 L562.8,415.3 L563.9,415.3 L564.9,415.1 L565.9,413.8 L567.0,413.7 L568.0,412.1 L569.0,412.4 L570.2,411.6 L571.4,411.5 L572.5,411.3 L573.7,410.3 L574.9,410.2 L576.1,410.7 L577.3,411.6 L578.4,412.1 L579.6,412.8 L580.8,413.1 L581.7,412.5 L582.6,411.5 L583.6,411.3 L584.5,410.2 L585.6,410.2 L586.7,410.2 L587.4,408.9 L588.0,407.9 L588.7,407.2 L590.1,407.0 L591.4,406.8 L592.8,406.7 L594.1,406.5 L595.1,405.6 L596.1,404.7 L597.1,403.7 L598.1,402.8 L599.2,402.5 L600.3,403.4 L601.5,403.8 L602.6,403.8 L603.7,403.8 L604.6,404.4 L605.5,405.3 L606.5,405.4 L607.4,406.5 L608.5,405.0 L609.6,405.2 L610.8,404.1 L611.9,403.8 L613.2,404.1 L614.5,403.2 L615.9,402.5 L617.2,403.1 L618.5,403.5 L619.9,403.6 L621.2,403.2 L622.5,403.0 L623.9,402.9 L625.2,403.0 L626.6,402.8 L627.6,404.0 L628.6,404.8 L629.6,405.7 L630.6,407.1 L631.5,407.5 L632.5,407.9 L633.7,408.1 L635.0,408.5 L636.2,409.1 L637.4,409.0 L638.7,409.2 L639.9,409.0 L640.6,407.6 L641.4,407.1 L642.1,406.5 L642.9,405.3 L643.5,406.0 L644.2,407.5 L644.8,407.9 L646.2,408.3 L647.5,408.5 L648.9,408.2 L650.3,408.4 L651.5,409.4 L652.7,408.7 L653.8,408.0 L655.0,408.0 L656.2,407.9 L656.3,409.2 L656.4,410.5 L656.5,411.8 L656.7,413.1 L656.8,414.4 L656.9,415.7 L657.0,417.1 L657.1,418.4 L657.2,419.7 L657.4,421.0 L657.5,422.3 L657.6,423.6 L657.7,424.9 L658.1,423.6 L658.4,422.4 L658.8,421.1 L659.1,419.8 L659.5,421.1 L659.9,422.4 L660.2,423.6 L660.6,424.9 L661.1,424.7 L661.5,422.2 L662.0,421.4 L662.5,419.8 L663.4,420.2 L664.3,419.8 L665.0,421.0 L665.8,421.7 L666.5,423.4 L667.3,424.5 L668.4,425.3 L669.5,425.7 L670.2,426.9 L671.0,427.9 L671.7,428.9 L672.5,430.0 L673.2,431.1 L673.9,432.1 L674.7,433.1 L675.4,434.1 L676.2,435.3 L676.9,436.3 L677.3,435.0 L677.6,433.8 L678.0,432.5 L678.4,431.2 L678.7,430.0 L679.1,428.7 L679.5,427.4 L679.8,426.2 L680.2,424.9 L680.5,426.3 L680.8,427.6 L681.1,429.0 L681.4,430.4 L681.7,431.7 L682.0,433.1 L682.4,431.9 L682.7,430.7 L683.1,429.5 L683.4,428.3 L683.8,427.1 L684.3,427.7 L684.8,428.9 L685.2,430.2 L685.7,430.6 L686.2,432.3 L687.0,431.0 L687.7,429.3 L688.5,428.8 L689.2,428.2 L690.0,426.9 L691.0,427.1 L692.0,426.9 L693.0,426.9 L693.5,425.9 L693.9,424.5 L694.4,424.2 L695.6,424.6 L696.9,423.6 L698.1,423.0 L698.5,422.4 L698.9,420.4 L699.2,419.6 L699.6,417.8 L700.0,417.5 L700.4,418.8 L700.8,420.1 L701.1,421.4 L701.5,422.7 L702.2,423.6 L703.0,423.9 L703.4,422.7 L703.8,421.4 L704.1,420.2 L704.5,419.0 L705.6,419.2 L706.6,417.7 L707.7,418.3 L708.8,418.0 L710.0,418.0 L711.1,416.7 L712.2,417.1 L713.4,416.4 L714.6,416.8 L715.7,417.1 L716.9,416.8 L718.1,417.5 L719.2,417.0 L720.3,416.5 L720.8,415.5 L721.4,414.5 L722.0,413.3 L722.5,411.9 L722.9,413.8 L723.4,414.8 L723.8,415.0 L724.3,416.6 L724.7,418.0 L725.1,416.9 L725.4,415.8 L725.8,414.6 L726.1,413.5 L726.5,412.4 L726.8,413.6 L727.1,414.8 L727.4,416.0 L727.8,417.3 L728.1,418.5 L728.4,419.7 L728.7,420.9 L729.3,419.5 L729.9,418.5 L730.5,418.0 L731.1,417.1 L731.7,416.1 L732.3,417.4 L732.9,417.6 L733.4,418.9 L734.0,420.5 L735.0,419.8 L736.0,418.9 L737.0,418.3 L737.8,419.0 L738.7,420.0 L739.5,420.9 L740.2,420.4 L741.0,420.5 L741.5,421.9 L742.0,422.8 L742.4,423.8 L742.9,424.9 L743.9,425.1 L744.9,425.8 L745.9,425.3 L746.9,426.9 L747.3,425.3 L747.7,424.6 L748.0,422.8 L748.4,422.4 L748.8,421.2 L750.0,421.1 L751.3,420.9 L751.7,422.1 L752.0,423.3 L752.4,424.5 L752.8,425.7 L752.9,427.0 L753.0,428.2 L753.1,429.5 L753.2,430.7 L753.3,432.0 L753.4,433.2 L753.5,434.5 L753.7,433.2 L754.0,431.9 L754.2,430.5 L754.5,429.2 L754.7,427.9 L755.1,428.3 L755.5,429.8 L755.8,430.8 L756.2,431.9 L757.0,431.6 L757.9,431.2 L758.7,430.4 L759.7,431.0 L760.6,431.6 L761.5,430.3 L762.4,429.8 L763.7,429.7 L765.0,429.7 L766.3,429.7 L767.5,429.6 L768.8,429.5 L770.1,429.3 L771.4,429.4 L772.7,429.4 L774.0,429.4 L775.3,429.5 L776.6,429.7 L777.9,429.8 L779.3,430.0 L780.6,430.1 L781.9,430.1 L783.2,430.6 L784.5,430.4 L785.6,429.9 L786.7,430.2 L787.8,429.4 L788.4,428.5 L789.1,427.9 L789.8,425.4 L790.4,425.4 L791.5,425.8 L792.7,426.9 L793.7,426.3 L794.6,425.8 L795.6,424.9 L796.2,427.0 L796.8,427.2 L797.4,428.7 L798.0,429.6 L798.6,430.4 L799.3,429.6 L800.1,428.3 L800.8,426.9 L801.5,426.9 L802.3,427.1 L803.4,426.5 L804.5,425.0 L805.6,425.2 L806.7,423.9 L808.0,423.2 L809.3,423.5 L810.7,424.1 L812.0,422.8 L813.3,422.7 L813.8,421.4 L814.2,420.5 L814.7,418.8 L815.1,417.1 L815.6,416.1 L815.8,417.5 L816.1,418.8 L816.3,420.1 L816.5,421.5 L816.8,422.9 L817.0,424.2 L818.0,425.3 L819.0,426.4 L820.0,427.1 L821.2,427.6 L822.4,427.1 L823.5,428.3 L824.7,428.4 L825.9,427.9 L827.0,428.2 L828.0,428.7 L829.1,428.9 L829.9,427.7 L830.7,427.4 L831.5,425.7 L832.8,425.1 L834.2,425.4 L835.5,424.9 L836.6,424.0 L837.7,423.2 L838.8,423.0 L839.9,422.0 L840.9,421.9 L842.0,420.6 L843.0,419.7 L844.1,419.6 L845.1,418.6 L845.8,419.5 L846.5,420.6 L847.1,422.1 L847.8,422.4 L848.6,421.9 L849.5,420.5 L850.6,421.0 L851.7,422.0 L852.8,422.4 L854.0,420.9 L855.1,420.7 L856.2,419.8 L856.6,418.3 L857.1,417.4 L857.5,415.5 L858.0,415.8 L858.4,413.9 L859.0,415.6 L859.5,415.6 L860.0,416.6 L860.6,418.3 L861.0,416.6 L861.5,416.7 L861.9,415.0 L862.4,414.1 L862.8,413.1 L863.8,412.2 L864.8,411.6 L865.8,410.9 L867.0,410.8 L868.3,411.6 L869.5,411.9 L870.8,411.5 L872.0,411.5 L873.3,411.3 L874.5,411.2 L875.8,410.9 L877.0,410.6 L878.3,410.5 L879.0,411.4 L879.8,412.0 L880.5,413.1 L881.1,414.9 L881.6,415.6 L882.2,416.4 L882.8,417.5 L883.3,416.4 L883.9,415.4 L884.5,414.4 L885.0,413.9 L885.7,413.0 L886.5,412.5 L887.2,411.6 L888.1,412.3 L889.1,412.8 L890.0,413.1 L890.6,415.1 L891.2,415.1 L891.8,416.5 L892.3,415.4 L892.8,415.4 L893.4,412.4 L893.9,411.8 L894.4,410.9 L895.5,410.8 L896.6,410.6 L897.7,411.1 L898.9,411.7 L900.0,411.8 L901.1,412.4 L902.0,411.7 L902.9,410.6 L903.7,410.0 L904.6,408.0 L905.5,407.9 L906.2,408.4 L907.0,409.7 L907.7,410.6 L908.2,409.4 L908.7,408.6 L909.2,408.2 L910.0,409.1 L910.7,409.4 L911.3,408.1 L911.9,407.6 L912.4,406.7 L913.0,405.4 L913.6,404.3 L914.7,403.8 L915.8,402.8 L916.1,401.6 L916.4,400.4 L916.7,399.3 L917.0,398.1 L917.3,396.9 L918.5,397.6 L918.6,399.0 L918.7,400.4 L918.8,401.8 L918.9,403.2 L919.0,404.5 L919.1,405.9 L919.2,407.3 L919.2,408.7 L919.3,410.1 L919.4,411.5 L919.5,412.9 L919.6,414.2 L919.7,415.6 L919.8,417.0 L919.9,418.4 L920.0,419.8 L920.3,418.5 L920.6,417.1 L920.9,415.8 L921.2,414.5 L921.6,413.1 L921.9,411.8 L922.2,410.4 L922.5,409.1 L923.0,410.4 L923.5,411.5 L924.0,413.0 L924.5,414.4 L924.9,415.6 L925.4,417.0 L925.9,418.4 L926.4,419.5 L926.9,420.9 L927.6,419.8 L928.3,418.7 L929.0,417.2 L929.6,416.1 L930.3,414.8 L931.0,413.8 L931.7,412.4 L932.7,411.9 L933.6,411.2 L933.9,410.0 L934.1,408.7 L934.4,407.5 L934.7,406.2 L935.0,405.0 L935.2,403.8 L935.5,402.5 L935.8,401.3 L936.0,402.6 L936.2,403.8 L936.4,405.1 L936.7,406.4 L936.9,407.7 L937.1,408.9 L937.3,410.2 L938.1,409.6 L939.0,408.2 L940.1,408.5 L941.2,409.4 L942.4,410.0 L943.5,410.6 L944.4,409.1 L945.2,409.8 L946.0,408.8 L946.9,407.7 L947.5,407.9 L948.0,410.0 L948.5,410.6 L949.1,411.6 L950.5,411.9 L951.8,412.0 L953.2,411.9 L953.7,410.3 L954.1,409.8 L954.5,409.5 L955.0,407.9 L956.1,407.1 L957.1,406.3 L958.2,406.2 L958.8,404.5 L959.4,403.4 L960.0,403.0 L960.6,401.7 L961.7,402.1 L962.8,401.3 L963.9,400.9 L964.6,401.9 L965.3,403.6 L966.1,403.3 L966.8,404.1 L967.5,405.3 L968.4,406.3 L969.3,407.1 L970.2,407.2 L971.1,407.8 L972.0,409.1 L973.1,409.2 L974.3,409.2 L975.4,409.1 L975.8,407.5 L976.2,407.0 L976.7,405.8 L977.1,405.0 L978.1,405.4 L979.1,405.4 L980.1,405.7 L980.8,406.4 L981.6,407.0 L982.3,407.9 L983.5,408.4 L984.8,408.7 L986.0,408.2 L986.9,407.3 L987.8,407.2 L988.6,405.8 L989.5,405.4 L990.4,404.7 L991.3,404.3 L992.2,404.0 L993.2,402.5 L994.1,402.0 L995.2,402.0 L996.4,402.1 L997.5,401.4 L998.6,402.0 L999.3,402.8 L1000.1,403.2 L1000.8,404.3 L1001.9,404.6 L1003.0,404.2 L1004.1,404.0 L1005.2,405.0 L1005.8,405.9 L1006.3,407.0 L1006.9,407.5 L1007.4,408.7 L1007.8,408.0 L1008.1,406.4 L1008.5,405.1 L1008.9,404.4 L1009.2,402.5 L1009.6,402.0 L1010.0,400.8 L1010.4,399.5 L1010.8,398.3 L1011.5,398.8 L1012.3,399.8 L1012.8,398.8 L1013.2,398.2 L1013.6,396.7 L1014.1,395.8 L1015.0,395.5 L1015.8,394.6 L1016.7,394.4 L1018.0,394.9 L1019.4,395.8 L1020.7,395.4 L1021.4,396.2 L1022.2,398.7 L1022.9,398.8 L1024.0,398.3 L1025.2,398.3 L1025.9,397.2 L1026.7,396.2 L1027.4,395.4 L1028.1,393.9 L1028.8,393.0 L1029.6,393.2 L1030.1,391.1 L1030.6,391.1 L1031.0,390.0 L1031.5,388.7 L1032.0,388.4 L1032.5,386.1 L1033.7,386.2 L1035.0,386.2 L1036.2,386.1 L1036.9,387.1 L1037.7,387.5 L1038.4,388.0 L1039.2,388.5 L1039.9,387.6 L1040.2,388.6 L1040.5,389.6 L1040.7,390.7 L1041.0,391.7 L1042.1,390.4 L1043.3,390.1 L1044.4,389.5 L1045.5,387.9 L1046.6,389.6 L1047.7,389.0 L1048.8,389.0 L1049.5,390.4 L1050.3,391.0 L1050.7,393.0 L1051.2,393.2 L1051.6,394.1 L1052.1,395.1 L1052.5,396.4 L1053.2,394.9 L1054.0,393.9 L1054.7,393.4 L1055.4,392.0 L1056.6,392.1 L1057.8,392.2 L1058.9,392.2 L1060.1,392.7 L1061.3,392.4 L1062.0,391.7 L1062.8,390.6 L1063.5,390.0 L1064.3,388.8 L1065.0,388.0 L1066.2,387.0 L1067.5,387.6 L1068.7,386.5 L1069.9,387.2 L1071.2,387.1 L1072.4,388.0 L1073.0,389.6 L1073.5,390.3 L1074.0,390.6 L1074.6,392.4 L1075.0,393.6 L1075.3,394.9 L1075.7,396.1 L1076.1,397.3 L1076.4,398.6 L1076.8,399.8 L1077.2,401.0 L1077.5,402.3 L1077.9,403.5 L1078.3,402.2 L1078.7,400.9 L1079.0,399.5 L1079.4,398.2 L1079.8,396.9 L1080.5,398.7 L1081.3,399.1 L1081.8,398.2 L1082.4,397.4 L1083.0,396.0 L1083.5,394.9 L1084.5,395.6 L1085.5,395.8 L1086.5,397.3 L1087.4,397.8 L1088.3,397.4 L1089.0,396.3 L1089.6,395.0 L1090.2,394.1 L1090.9,392.8 L1091.8,392.2 L1092.6,391.8 L1093.5,390.8 L1094.8,390.5 L1096.1,390.6 L1097.4,390.5 L1097.5,391.7 L1097.7,392.9 L1097.8,394.1 L1098.0,395.3 L1098.1,396.5 L1099.0,395.1 L1100.0,395.4 L1100.7,394.2 L1101.3,393.6 L1102.0,392.2 L1102.6,394.0 L1103.2,394.4 L1103.7,395.7 L1104.3,397.0 L1105.3,397.4 L1106.2,396.3 L1107.2,396.1 L1107.6,395.1 L1108.1,394.2 L1108.5,392.2 L1109.7,391.7 L1110.8,391.7 L1111.9,390.4 L1113.1,390.2 L1113.9,391.1 L1114.8,391.8 L1115.6,392.7 L1116.4,393.5 L1117.3,394.2 L1118.3,394.9 L1119.2,394.1 L1119.4,395.4 L1119.5,396.7 L1119.7,398.1 L1119.8,399.4 L1120.0,400.7 L1120.1,402.0 L1120.2,403.3 L1120.4,404.5 L1120.5,405.8 L1120.6,407.1 L1120.7,408.4 L1120.8,409.7 L1120.9,411.0 L1121.1,412.2 L1121.2,413.5 L1121.3,414.8 L1121.5,413.6 L1121.8,412.3 L1122.0,411.1 L1122.3,409.8 L1122.8,408.9 L1123.2,408.5 L1123.5,407.2 L1123.7,405.9 L1124.0,404.6 L1124.2,403.3 L1124.4,402.0 L1124.6,400.7 L1124.8,399.4 L1124.9,398.0 L1125.1,396.7 L1125.3,395.4 L1125.5,394.1 L1125.9,392.8 L1126.2,391.5 L1126.6,390.2 L1126.7,388.9 L1126.7,387.6 L1126.8,386.3 L1126.9,385.0 L1126.9,383.7 L1127.0,382.4 L1127.1,381.0 L1127.2,379.7 L1127.2,378.4 L1127.3,377.1 L1127.4,375.8 L1127.4,374.5 L1127.5,373.2 L1127.5,371.9 L1127.6,370.6 L1127.6,369.3 L1127.7,368.0 L1127.7,366.6 L1127.7,365.3 L1127.8,364.0 L1127.8,362.7 L1127.9,361.4 L1127.9,360.1 L1128.0,361.3 L1128.1,362.5 L1128.2,363.7 L1128.2,365.0 L1128.3,366.2 L1128.4,367.4 L1128.5,368.6 L1128.6,367.2 L1128.6,365.9 L1128.7,364.5 L1128.8,363.1 L1128.8,361.7 L1128.9,360.4 L1129.0,359.0 L1129.0,357.6 L1129.1,356.3 L1129.1,354.9 L1129.2,353.5 L1129.3,352.1 L1129.3,350.8 L1129.4,349.4 L1129.9,350.1 L1130.3,351.5 L1130.8,352.3 L1131.0,353.6 L1131.1,355.0 L1131.3,356.4 L1131.5,357.7 L1131.6,359.0 L1131.8,360.4 L1131.9,359.1 L1132.0,357.7 L1132.1,356.4 L1132.2,355.1 L1132.3,353.7 L1132.4,352.4 L1132.5,351.1 L1132.6,349.8 L1132.7,348.4 L1132.8,347.1 L1132.9,345.8 L1133.0,344.4 L1133.1,343.1 L1133.3,344.2 L1133.4,345.3 L1133.6,346.4 L1133.7,345.0 L1133.8,343.7 L1133.9,342.3 L1133.9,341.0 L1134.0,339.6 L1134.1,338.3 L1134.2,336.9 L1134.3,335.6 L1134.4,334.2 L1134.4,332.9 L1134.5,331.5 L1134.6,330.2 L1134.7,328.8 L1134.8,330.1 L1134.9,331.4 L1135.0,332.7 L1135.0,334.0 L1135.1,335.3 L1135.2,336.6 L1135.3,337.9 L1135.4,339.1 L1135.5,340.3 L1135.6,341.5 L1135.7,342.8 L1135.8,344.0 L1135.9,345.2 L1136.0,346.4 L1136.3,345.2 L1136.7,344.1 L1137.0,342.9 L1137.3,341.8 L1137.4,340.5 L1137.6,339.2 L1137.7,337.9 L1137.8,336.6 L1137.9,335.3 L1138.1,334.0 L1138.2,332.7 L1138.3,331.4 L1138.5,330.1 L1138.6,328.8 L1138.7,327.4 L1138.7,326.0 L1138.8,324.6 L1138.8,323.2 L1138.9,321.9 L1138.9,320.5 L1139.0,319.1 L1139.0,317.7 L1139.1,316.3 L1139.1,314.9 L1139.2,313.5 L1139.2,312.1 L1139.3,310.7 L1139.3,309.3 L1139.4,308.0 L1139.4,306.6 L1139.5,305.2 L1139.5,303.8 L1139.6,302.4 L1139.7,303.7 L1139.8,305.0 L1139.8,306.4 L1139.9,307.7 L1140.0,309.0 L1140.1,310.3 L1140.1,311.7 L1140.2,313.0 L1140.3,314.3 L1140.4,315.6 L1140.4,317.0 L1140.5,318.3 L1140.6,319.6 L1140.7,318.2 L1140.8,316.9 L1140.8,315.6 L1140.9,314.2 L1141.0,312.9 L1141.1,311.5 L1141.2,310.2 L1141.2,308.8 L1141.3,307.4 L1141.4,306.1 L1141.5,304.8 L1141.6,303.4 L1141.7,302.1 L1141.7,300.7 L1141.8,299.4 L1141.9,298.0 L1141.9,296.7 L1142.0,295.4 L1142.0,294.2 L1142.1,292.9 L1142.1,291.6 L1142.2,290.3 L1142.2,289.1 L1142.3,287.8 L1142.3,286.5 L1142.4,285.1 L1142.4,283.7 L1142.5,282.3 L1142.5,280.9 L1142.6,279.5 L1142.6,278.2 L1142.7,276.8 L1142.8,275.4 L1142.8,274.0 L1142.9,272.6 L1142.9,271.2 L1143.0,269.8 L1143.0,268.4 L1143.1,267.0 L1143.1,265.6 L1143.2,264.2 L1143.3,262.8 L1143.3,261.5 L1143.4,260.1 L1143.4,258.7 L1143.5,257.3 L1143.5,255.9 L1143.6,254.5 L1144.0,255.0 L1144.5,256.4 L1144.6,257.6 L1144.8,258.8 L1144.9,260.1 L1145.0,261.3 L1145.1,262.5 L1145.2,263.8 L1145.4,265.0 L1145.5,266.2 L1145.6,264.8 L1145.7,263.5 L1145.7,262.1 L1145.8,260.8 L1145.9,259.4 L1146.0,258.1 L1146.0,256.8 L1146.1,255.4 L1146.2,254.1 L1146.3,252.7 L1146.4,251.3 L1146.4,250.0 L1146.5,248.7 L1146.6,247.3 L1146.7,246.1 L1146.8,244.9 L1146.9,243.6 L1147.0,242.4 L1147.2,241.2 L1147.3,239.9 L1147.4,238.7 L1147.5,237.5 L1147.8,238.7 L1148.0,239.9 L1148.3,241.0 L1148.5,242.2 L1148.8,243.4 L1149.0,242.2 L1149.2,241.0 L1149.4,239.8 L1149.7,238.6 L1149.9,237.4 L1150.1,236.2 L1150.5,234.9 L1150.9,233.6 L1151.4,232.2 L1151.8,230.9 L1152.1,232.0 L1152.4,233.1 L1152.7,234.2 L1152.9,232.9 L1153.0,231.6 L1153.2,230.3 L1153.3,229.0 L1153.5,227.7 L1153.6,226.3 L1153.8,225.0 L1153.9,223.7 L1154.1,222.4 L1154.2,221.1 L1154.4,219.8 L1155.1,221.0 L1155.7,222.0 L1156.3,222.7 L1157.0,223.8 L1157.7,223.2 L1158.5,221.5 L1159.2,221.6 L1159.9,220.5 L1160.2,219.3 L1160.5,218.1 L1160.8,216.9 L1161.0,215.6 L1161.3,214.4 L1161.6,213.2 L1161.9,212.0 L1162.8,210.7 L1163.6,210.4 L1164.5,210.0 L1164.8,211.2 L1165.2,212.3 L1165.5,213.4 L1165.8,214.6 L1166.1,213.4 L1166.4,212.3 L1166.8,211.2 L1167.1,210.0 L1168.2,209.3 L1169.4,208.9 L1170.5,208.9 L1171.7,208.1 L1173.0,208.3 L1174.3,208.3 L1175.6,208.7 L1176.5,208.4 L1177.5,207.7 L1178.4,209.0 L1179.2,209.0 L1180.1,209.6 L1181.1,209.6 L1182.1,209.3" stroke="#fff" stroke-width="5.5"/>
</g>
<!-- axis -->
<g fill="#222">
<rect x="14" y="691" width="1187" height="2"/>
<rect x="201.0" y="692" width="2" height="10"/><rect x="354.5" y="692" width="2" height="10"/><rect x="508.0" y="692" width="2" height="10"/><rect x="661.5" y="692" width="2" height="10"/><rect x="815.0" y="692" width="2" height="10"/><rect x="968.5" y="692" width="2" height="10"/><rect x="1122.0" y="692" width="2" height="10"/>
</g>
<g fill="none" stroke-linejoin="round" stroke-linecap="butt">
<path d="M99.2,530.3 L100.2,529.6 L101.1,529.9 L102.1,530.6 L103.0,531.3 L104.0,531.4 L105.3,531.3 L106.6,531.1 L107.9,531.3 L109.2,531.3 L110.5,531.3 L111.8,531.0 L113.0,530.9 L114.3,531.2 L115.6,531.1 L116.9,531.2 L118.2,531.1 L119.5,530.9 L120.8,530.9 L122.2,530.9 L123.5,531.3 L124.9,531.0 L126.2,530.9 L127.6,530.9 L128.9,531.1 L130.3,531.1 L131.6,531.1 L133.0,531.2 L134.3,531.2 L135.6,531.4 L137.0,531.6 L138.3,531.8 L139.7,531.4 L141.0,531.4 L142.3,531.1 L143.7,531.4 L145.1,531.1 L146.4,531.2 L147.8,531.0 L149.1,531.2 L150.1,530.7 L151.0,529.8 L152.0,529.6 L152.9,529.1 L153.8,529.7 L154.8,527.7 L155.7,527.1 L157.0,527.8 L158.3,527.2 L159.6,528.0 L160.9,528.4 L162.0,528.4 L163.1,527.9 L164.2,527.8 L165.3,527.4 L166.7,527.5 L168.0,527.4 L169.4,527.7 L170.8,527.6 L172.1,528.0 L173.5,527.8 L174.7,527.2 L175.9,527.3 L177.1,526.6 L178.1,526.0 L179.1,525.9 L180.1,524.9 L181.3,524.7 L182.5,525.4 L183.6,525.0 L184.8,525.7 L186.0,525.2 L187.2,525.3 L188.5,525.0 L189.7,524.5 L190.9,525.0 L192.2,524.7 L193.4,524.4 L194.5,524.5 L195.6,523.2 L196.5,522.3 L197.4,522.0 L198.4,521.3 L199.3,520.4 L200.5,520.5 L201.8,520.5 L203.0,520.4 L204.3,520.0 L205.6,519.2 L206.9,518.5 L208.2,518.5 L208.9,517.5 L209.7,517.1 L210.4,516.0 L211.7,516.5 L213.0,516.1 L214.4,516.0 L215.7,515.8 L217.0,515.3 L218.0,514.9 L219.0,514.0 L220.0,513.3 L221.1,513.7 L222.2,514.2 L223.3,513.4 L224.4,513.6 L225.1,512.2 L225.9,512.3 L226.6,510.5 L227.4,509.7 L228.1,508.2 L228.6,509.4 L229.1,509.5 L229.6,510.8 L230.3,510.9 L231.1,509.8 L231.8,508.2 L232.6,507.6 L233.3,506.4 L234.4,507.3 L235.5,507.7 L236.6,508.8 L237.7,509.7 L238.8,509.6 L239.9,509.6 L241.0,509.2 L242.1,508.6 L243.0,509.2 L243.9,510.4 L244.9,510.2 L245.8,511.1 L246.4,512.4 L246.9,513.4 L247.4,513.8 L248.0,514.8 L249.0,514.8 L250.0,515.9 L251.0,517.1 L252.0,518.0 L253.0,519.2 L254.0,519.3 L254.6,520.0 L255.1,521.5 L255.6,522.9 L256.2,523.7 L257.4,524.0 L258.7,523.4 L259.9,524.7 L260.4,526.1 L261.0,527.8 L261.6,528.3 L262.1,528.9 L262.7,527.3 L263.3,526.3 L263.8,525.4 L264.4,525.1 L265.0,522.9 L266.0,523.7 L267.0,523.9 L268.0,524.4 L268.7,524.1 L269.5,522.4 L270.2,521.5 L271.3,521.8 L272.4,520.3 L273.5,520.0 L274.6,519.7 L275.7,520.0 L276.8,520.3 L277.9,519.7 L278.3,521.1 L278.8,522.1 L279.2,522.4 L279.6,524.0 L280.1,525.2 L280.5,526.6 L281.3,525.2 L282.0,524.6 L282.8,523.2 L284.0,522.6 L285.3,522.7 L286.5,521.9 L287.7,522.4 L288.8,522.8 L290.0,523.4 L291.2,523.1 L292.4,522.9 L293.5,522.8 L294.7,521.9 L295.9,521.8 L296.6,520.5 L297.2,518.9 L297.9,519.0 L298.5,517.8 L299.2,516.0 L299.7,517.0 L300.1,518.0 L300.6,519.3 L302.0,518.8 L303.3,519.3 L303.9,520.1 L304.5,520.9 L305.1,521.5 L305.8,521.5 L306.5,519.8 L307.1,518.5 L307.8,516.9 L308.5,517.0 L309.4,517.0 L310.4,516.0 L311.3,514.7 L312.2,514.8 L313.1,514.0 L314.0,512.3 L314.9,513.5 L315.8,511.1 L316.2,509.8 L316.6,508.6 L316.9,507.3 L317.3,506.0 L318.4,506.8 L319.5,506.7 L320.2,505.8 L321.0,504.5 L321.9,505.2 L322.8,506.0 L323.4,504.0 L323.9,503.8 L324.5,502.1 L325.1,502.0 L325.6,499.8 L326.2,499.6 L327.1,499.2 L328.1,499.6 L328.4,501.0 L328.6,502.3 L328.9,503.6 L329.1,505.0 L329.4,506.4 L329.7,507.7 L329.9,509.0 L330.2,510.4 L330.6,509.2 L330.9,507.9 L331.3,506.7 L331.7,505.5 L332.4,506.6 L333.1,506.7 L334.3,507.0 L335.5,506.0 L335.9,507.2 L336.2,508.3 L336.6,509.5 L336.9,510.6 L337.3,511.8 L337.6,512.9 L338.0,514.1 L338.8,514.7 L339.5,515.7 L340.2,517.8 L341.0,518.5 L342.1,519.2 L343.3,518.8 L344.4,519.6 L344.8,518.2 L345.2,517.1 L345.6,515.8 L346.1,514.8 L346.5,514.5 L346.9,512.9 L348.1,513.4 L349.4,514.2 L350.6,513.6 L351.7,513.2 L352.8,512.9 L353.9,512.2 L355.0,512.3 L355.8,513.1 L356.5,513.4 L357.2,514.0 L358.0,515.6 L359.2,516.0 L360.4,516.5 L361.5,516.4 L362.7,516.7 L363.9,516.3 L365.1,515.8 L366.3,514.7 L367.5,514.4 L368.5,514.4 L369.5,514.2 L370.5,514.4 L371.4,513.4 L372.4,512.6 L373.3,512.2 L374.2,512.3 L374.9,511.3 L375.6,510.5 L376.4,509.3 L377.1,508.5 L378.2,509.7 L379.4,509.7 L380.5,509.5 L381.7,509.4 L382.8,508.9 L383.1,507.8 L383.3,506.7 L383.6,505.6 L383.8,504.5 L384.8,504.7 L385.8,503.6 L386.8,503.7 L387.4,503.9 L388.1,506.1 L388.7,506.6 L389.3,507.9 L389.7,507.3 L390.1,505.8 L390.4,505.0 L390.8,503.7 L391.2,502.3 L392.3,501.9 L393.4,503.6 L394.5,503.4 L395.6,504.2 L396.8,503.3 L398.1,503.0 L399.3,502.6 L400.4,503.1 L401.5,503.4 L402.6,503.7 L403.7,503.5 L405.0,502.8 L406.4,503.2 L407.7,502.4 L409.1,503.3 L410.4,503.3 L411.0,504.7 L411.7,505.2 L412.3,506.7 L413.1,507.3 L414.0,507.8 L414.8,508.2 L415.4,509.8 L416.1,510.2 L416.7,511.4 L417.3,512.9 L418.4,512.4 L419.5,513.4 L420.7,512.9 L421.8,512.3 L422.9,512.2 L424.1,512.3 L425.3,512.3 L426.4,512.3 L427.6,512.2 L428.8,512.3 L429.7,511.7 L430.6,510.8 L431.5,510.8 L432.7,510.7 L433.9,511.8 L435.0,511.5 L436.2,511.4 L436.4,510.0 L436.6,508.6 L436.7,507.3 L436.9,505.9 L437.1,504.5 L437.5,505.8 L437.8,507.0 L438.2,508.3 L438.5,509.5 L438.9,510.8 L439.4,509.6 L439.9,508.3 L440.5,507.2 L441.0,506.0 L441.5,507.3 L441.9,508.1 L442.4,509.7 L442.9,510.8 L443.6,509.8 L444.4,508.2 L445.1,507.4 L445.9,507.2 L446.6,507.7 L447.2,506.4 L447.9,505.4 L448.6,505.3 L449.2,504.0 L449.8,503.9 L450.4,505.7 L451.1,506.5 L451.7,507.7 L452.9,506.9 L454.2,506.6 L455.4,506.0 L456.6,506.6 L457.9,506.3 L459.1,506.4 L460.1,505.4 L461.1,504.2 L462.1,503.5 L463.3,503.5 L464.5,504.1 L465.6,503.6 L466.8,503.4 L468.0,504.0 L469.2,503.0 L470.5,502.6 L471.7,502.6 L472.9,502.1 L474.1,503.2 L475.2,503.0 L476.4,502.8 L477.6,503.0 L478.3,502.9 L479.1,501.3 L479.8,500.8 L480.9,500.7 L482.0,500.4 L483.1,499.0 L484.2,499.3 L484.9,497.5 L485.6,496.6 L486.2,496.1 L486.9,495.1 L487.6,493.4 L488.4,493.4 L489.2,494.9 L490.0,495.0 L491.1,494.6 L492.2,494.3 L493.3,493.9 L494.4,493.9 L495.3,494.5 L496.2,494.5 L497.2,495.6 L498.1,496.7 L499.3,495.8 L500.5,496.1 L501.6,496.3 L502.8,496.2 L504.0,494.6 L504.4,493.3 L504.9,491.8 L505.3,490.7 L505.7,489.4 L506.1,488.5 L506.6,487.0 L507.0,485.7 L507.6,486.4 L508.1,488.1 L508.6,488.9 L509.2,489.7 L510.3,489.1 L511.4,489.7 L512.5,490.0 L513.6,490.2 L514.2,489.0 L514.8,487.7 L515.5,486.5 L516.1,485.3 L516.7,484.0 L517.3,482.8 L518.3,482.8 L519.3,484.1 L520.3,483.8 L520.5,485.1 L520.6,486.3 L520.8,487.6 L521.0,488.9 L521.2,490.2 L521.3,491.4 L521.5,492.7 L521.7,494.0 L521.9,495.3 L522.0,496.5 L522.2,497.8 L522.5,496.6 L522.7,495.4 L523.0,494.2 L523.2,493.1 L523.5,491.9 L523.7,490.7 L524.0,489.5 L524.5,490.6 L525.1,491.6 L525.7,491.8 L526.2,493.4 L526.9,492.4 L527.7,491.9 L528.4,490.1 L529.1,489.7 L530.2,489.6 L531.4,488.4 L532.5,488.2 L533.6,487.5 L534.9,487.3 L536.2,487.3 L537.6,487.6 L538.9,486.8 L540.2,486.8 L541.5,487.0 L542.8,485.6 L544.1,485.1 L545.4,485.0 L546.1,485.9 L546.9,485.8 L547.6,486.8 L548.3,485.7 L549.1,485.4 L549.8,484.1 L550.5,485.6 L551.3,485.4 L552.0,487.1 L553.0,486.7 L554.1,486.6 L555.1,485.6 L556.2,484.4 L557.2,483.8 L558.3,484.0 L559.5,484.7 L560.6,485.3 L561.7,484.1 L562.8,483.7 L563.9,483.1 L564.9,483.6 L565.9,484.2 L567.0,485.3 L568.0,485.3 L569.0,486.0 L570.2,485.8 L571.4,487.3 L572.5,486.9 L573.7,487.6 L574.9,488.2 L576.1,487.6 L577.3,486.9 L578.4,486.0 L579.6,485.8 L580.8,485.3 L581.7,486.9 L582.6,486.5 L583.6,487.4 L584.5,488.2 L585.6,488.7 L586.7,488.2 L587.4,489.5 L588.0,490.5 L588.7,491.2 L590.1,491.7 L591.4,490.7 L592.8,491.4 L594.1,491.9 L595.1,492.9 L596.1,494.0 L597.1,495.2 L598.1,495.6 L599.2,495.6 L600.3,495.1 L601.5,495.0 L602.6,494.7 L603.7,494.6 L604.6,494.0 L605.5,493.5 L606.5,492.4 L607.4,491.9 L608.5,492.2 L609.6,492.9 L610.8,494.4 L611.9,494.6 L613.2,495.2 L614.5,495.1 L615.9,495.1 L617.2,495.2 L618.5,494.9 L619.9,495.0 L621.2,495.2 L622.5,495.1 L623.9,495.3 L625.2,495.4 L626.6,495.6 L627.6,494.9 L628.6,493.4 L629.6,492.7 L630.6,491.9 L631.5,491.4 L632.5,490.5 L633.7,490.9 L635.0,489.8 L636.2,489.6 L637.4,490.1 L638.7,489.1 L639.9,489.4 L640.6,490.5 L641.4,491.0 L642.1,492.1 L642.9,493.1 L643.5,491.5 L644.2,491.7 L644.8,490.5 L646.2,490.2 L647.5,489.9 L648.9,491.0 L650.3,490.0 L651.5,490.4 L652.7,491.7 L653.8,490.5 L655.0,490.3 L656.2,490.5 L656.3,489.2 L656.4,487.9 L656.5,486.6 L656.7,485.3 L656.8,484.0 L656.9,482.7 L657.0,481.3 L657.1,480.0 L657.2,478.7 L657.4,477.4 L657.5,476.1 L657.6,474.8 L657.7,473.5 L658.1,474.8 L658.4,476.1 L658.8,477.3 L659.1,478.6 L659.5,477.3 L659.9,476.1 L660.2,474.8 L660.6,473.5 L661.1,474.8 L661.5,476.7 L662.0,477.3 L662.5,478.6 L663.4,478.8 L664.3,478.6 L665.0,477.6 L665.8,475.9 L666.5,475.1 L667.3,473.9 L668.4,473.1 L669.5,472.7 L670.2,471.5 L671.0,470.7 L671.7,469.6 L672.5,468.5 L673.2,467.3 L673.9,466.1 L674.7,465.3 L675.4,464.2 L676.2,462.9 L676.9,462.1 L677.3,463.4 L677.6,464.6 L678.0,465.9 L678.4,467.2 L678.7,468.4 L679.1,469.7 L679.5,471.0 L679.8,472.2 L680.2,473.5 L680.5,472.1 L680.8,470.8 L681.1,469.4 L681.4,468.0 L681.7,466.7 L682.0,465.3 L682.4,466.5 L682.7,467.7 L683.1,468.9 L683.4,470.1 L683.8,471.3 L684.3,470.2 L684.8,468.6 L685.2,468.2 L685.7,467.2 L686.2,466.1 L687.0,467.3 L687.7,468.4 L688.5,469.4 L689.2,469.9 L690.0,471.5 L691.0,471.3 L692.0,471.3 L693.0,471.5 L693.5,472.3 L693.9,473.4 L694.4,474.2 L695.6,474.9 L696.9,475.7 L698.1,475.4 L698.5,475.4 L698.9,477.8 L699.2,478.6 L699.6,480.8 L700.0,480.9 L700.4,479.6 L700.8,478.3 L701.1,477.0 L701.5,475.7 L702.2,475.5 L703.0,474.5 L703.4,475.7 L703.8,476.9 L704.1,478.2 L704.5,479.4 L705.6,478.9 L706.6,480.0 L707.7,480.1 L708.8,480.2 L710.0,481.1 L711.1,480.6 L712.2,481.3 L713.4,481.2 L714.6,481.1 L715.7,481.0 L716.9,480.7 L718.1,480.9 L719.2,480.6 L720.3,481.9 L720.8,483.2 L721.4,484.6 L722.0,485.3 L722.5,486.5 L722.9,484.9 L723.4,484.1 L723.8,483.1 L724.3,481.5 L724.7,480.4 L725.1,481.5 L725.4,482.6 L725.8,483.8 L726.1,484.9 L726.5,486.0 L726.8,484.8 L727.1,483.6 L727.4,482.4 L727.8,481.1 L728.1,479.9 L728.4,478.7 L728.7,477.5 L729.3,478.5 L729.9,480.0 L730.5,479.9 L731.1,481.1 L731.7,482.3 L732.3,480.4 L732.9,479.8 L733.4,478.7 L734.0,477.9 L735.0,478.2 L736.0,479.1 L737.0,480.1 L737.8,480.0 L738.7,478.3 L739.5,477.5 L740.2,477.7 L741.0,477.9 L741.5,477.7 L742.0,475.7 L742.4,473.9 L742.9,473.5 L743.9,473.2 L744.9,472.1 L745.9,472.7 L746.9,471.5 L747.3,472.1 L747.7,473.5 L748.0,474.2 L748.4,476.1 L748.8,477.2 L750.0,476.9 L751.3,477.5 L751.7,476.3 L752.0,475.1 L752.4,473.9 L752.8,472.7 L752.9,471.4 L753.0,470.2 L753.1,468.9 L753.2,467.7 L753.3,466.4 L753.4,465.2 L753.5,463.9 L753.7,465.2 L754.0,466.5 L754.2,467.9 L754.5,469.2 L754.7,470.5 L755.1,469.5 L755.5,468.3 L755.8,467.2 L756.2,466.5 L757.0,467.4 L757.9,467.9 L758.7,468.0 L759.7,467.4 L760.6,466.8 L761.5,467.3 L762.4,468.6 L763.7,468.5 L765.0,468.7 L766.3,469.1 L767.5,468.7 L768.8,468.8 L770.1,468.8 L771.4,468.8 L772.7,469.0 L774.0,468.8 L775.3,468.8 L776.6,468.8 L777.9,468.6 L779.3,468.4 L780.6,468.1 L781.9,468.2 L783.2,468.1 L784.5,468.0 L785.6,467.8 L786.7,468.2 L787.8,469.0 L788.4,470.0 L789.1,471.4 L789.8,472.3 L790.4,473.0 L791.5,472.3 L792.7,471.5 L793.7,472.0 L794.6,473.0 L795.6,473.5 L796.2,472.4 L796.8,472.2 L797.4,469.7 L798.0,468.9 L798.6,468.0 L799.3,469.7 L800.1,470.2 L800.8,471.5 L801.5,472.0 L802.3,471.3 L803.4,472.1 L804.5,473.0 L805.6,473.5 L806.7,474.5 L808.0,474.2 L809.3,474.6 L810.7,476.2 L812.0,475.7 L813.3,475.7 L813.8,477.3 L814.2,478.7 L814.7,479.9 L815.1,481.4 L815.6,482.3 L815.8,480.9 L816.1,479.6 L816.3,478.2 L816.5,476.9 L816.8,475.6 L817.0,474.2 L818.0,473.1 L819.0,472.2 L820.0,471.3 L821.2,471.6 L822.4,470.8 L823.5,470.3 L824.7,470.6 L825.9,470.5 L827.0,469.9 L828.0,470.1 L829.1,469.5 L829.9,470.3 L830.7,471.2 L831.5,472.7 L832.8,472.8 L834.2,473.9 L835.5,473.5 L836.6,474.2 L837.7,475.0 L838.8,475.7 L839.9,476.4 L840.9,477.2 L842.0,478.1 L843.0,479.0 L844.1,478.4 L845.1,479.8 L845.8,479.4 L846.5,477.9 L847.1,476.8 L847.8,476.0 L848.6,478.0 L849.5,477.9 L850.6,477.1 L851.7,476.4 L852.8,477.8 L854.0,477.9 L855.1,477.6 L856.2,478.6 L856.6,480.0 L857.1,481.3 L857.5,482.1 L858.0,482.3 L858.4,484.5 L859.0,483.3 L859.5,482.2 L860.0,480.7 L860.6,480.1 L861.0,481.9 L861.5,482.1 L861.9,483.1 L862.4,484.1 L862.8,485.3 L863.8,485.7 L864.8,486.4 L865.8,487.5 L867.0,487.2 L868.3,487.0 L869.5,486.5 L870.8,486.6 L872.0,486.9 L873.3,486.9 L874.5,487.4 L875.8,487.4 L877.0,487.7 L878.3,487.9 L879.0,486.7 L879.8,486.0 L880.5,485.3 L881.1,484.3 L881.6,482.6 L882.2,483.0 L882.8,480.9 L883.3,481.8 L883.9,482.7 L884.5,483.3 L885.0,484.5 L885.7,485.9 L886.5,486.6 L887.2,486.8 L888.1,486.4 L889.1,485.2 L890.0,485.3 L890.6,484.0 L891.2,483.3 L891.8,481.9 L892.3,482.8 L892.8,483.6 L893.4,484.8 L893.9,486.1 L894.4,487.5 L895.5,487.7 L896.6,487.8 L897.7,487.1 L898.9,486.9 L900.0,487.6 L901.1,486.0 L902.0,487.6 L902.9,487.4 L903.7,488.8 L904.6,489.6 L905.5,490.5 L906.2,489.5 L907.0,489.1 L907.7,487.8 L908.2,488.5 L908.7,489.3 L909.2,490.2 L910.0,489.4 L910.7,489.0 L911.3,490.0 L911.9,491.6 L912.4,492.4 L913.0,492.5 L913.6,494.1 L914.7,494.7 L915.8,495.6 L916.1,496.8 L916.4,498.0 L916.7,499.1 L917.0,500.3 L917.3,501.5 L918.5,500.8 L918.6,499.4 L918.7,498.0 L918.8,496.6 L918.9,495.2 L919.0,493.9 L919.1,492.5 L919.2,491.1 L919.2,489.7 L919.3,488.3 L919.4,486.9 L919.5,485.5 L919.6,484.2 L919.7,482.8 L919.8,481.4 L919.9,480.0 L920.0,478.6 L920.3,479.9 L920.6,481.3 L920.9,482.6 L921.2,484.0 L921.6,485.3 L921.9,486.6 L922.2,488.0 L922.5,489.3 L923.0,487.9 L923.5,486.8 L924.0,485.4 L924.5,484.2 L924.9,482.7 L925.4,481.2 L925.9,480.2 L926.4,478.8 L926.9,477.5 L927.6,478.8 L928.3,479.8 L929.0,481.2 L929.6,482.3 L930.3,483.5 L931.0,484.8 L931.7,486.0 L932.7,486.7 L933.6,487.2 L933.9,488.4 L934.1,489.7 L934.4,490.9 L934.7,492.1 L935.0,493.4 L935.2,494.6 L935.5,495.9 L935.8,497.1 L936.0,495.8 L936.2,494.6 L936.4,493.3 L936.7,492.0 L936.9,490.7 L937.1,489.5 L937.3,488.2 L938.1,488.8 L939.0,490.2 L940.1,488.9 L941.2,488.0 L942.4,488.2 L943.5,487.8 L944.4,489.0 L945.2,489.2 L946.0,489.0 L946.9,490.7 L947.5,489.4 L948.0,488.9 L948.5,488.5 L949.1,486.8 L950.5,487.2 L951.8,486.8 L953.2,486.5 L953.7,487.6 L954.1,488.1 L954.5,489.3 L955.0,490.5 L956.1,490.9 L957.1,491.3 L958.2,492.2 L958.8,493.4 L959.4,494.3 L960.0,495.7 L960.6,496.7 L961.7,497.6 L962.8,497.5 L963.9,497.5 L964.6,496.8 L965.3,495.6 L966.1,494.2 L966.8,493.9 L967.5,493.1 L968.4,492.6 L969.3,491.2 L970.2,491.3 L971.1,489.9 L972.0,489.3 L973.1,489.5 L974.3,489.2 L975.4,489.3 L975.8,489.8 L976.2,492.2 L976.7,491.9 L977.1,493.4 L978.1,493.6 L979.1,492.7 L980.1,492.7 L980.8,492.1 L981.6,490.9 L982.3,490.5 L983.5,490.2 L984.8,490.7 L986.0,490.2 L986.9,491.7 L987.8,491.2 L988.6,492.3 L989.5,493.4 L990.4,493.7 L991.3,494.1 L992.2,495.3 L993.2,495.4 L994.1,496.4 L995.2,496.7 L996.4,496.6 L997.5,496.9 L998.6,496.4 L999.3,495.8 L1000.1,494.4 L1000.8,494.1 L1001.9,494.2 L1003.0,493.3 L1004.1,493.9 L1005.2,493.4 L1005.8,493.1 L1006.3,491.8 L1006.9,490.4 L1007.4,489.7 L1007.8,491.3 L1008.1,492.0 L1008.5,492.5 L1008.9,494.0 L1009.2,495.9 L1009.6,496.4 L1010.0,497.6 L1010.4,498.9 L1010.8,500.1 L1011.5,499.2 L1012.3,498.6 L1012.8,499.7 L1013.2,500.5 L1013.6,500.9 L1014.1,502.6 L1015.0,502.9 L1015.8,503.7 L1016.7,504.0 L1018.0,503.8 L1019.4,503.3 L1020.7,503.0 L1021.4,501.0 L1022.2,501.2 L1022.9,499.6 L1024.0,500.2 L1025.2,500.1 L1025.9,501.6 L1026.7,502.8 L1027.4,503.2 L1028.1,504.5 L1028.8,504.6 L1029.6,505.2 L1030.1,506.5 L1030.6,508.3 L1031.0,508.0 L1031.5,509.8 L1032.0,510.8 L1032.5,512.3 L1033.7,512.5 L1035.0,512.9 L1036.2,512.3 L1036.9,511.5 L1037.7,510.5 L1038.4,510.4 L1039.2,510.6 L1039.9,510.8 L1040.2,509.8 L1040.5,508.8 L1040.7,507.7 L1041.0,506.7 L1042.1,507.3 L1043.3,507.5 L1044.4,508.9 L1045.5,509.4 L1046.6,508.9 L1047.7,509.6 L1048.8,509.4 L1049.5,507.8 L1050.3,507.4 L1050.7,506.8 L1051.2,504.6 L1051.6,504.6 L1052.1,502.3 L1052.5,502.0 L1053.2,503.7 L1054.0,504.0 L1054.7,504.6 L1055.4,506.4 L1056.6,506.2 L1057.8,506.4 L1058.9,505.7 L1060.1,505.9 L1061.3,506.0 L1062.0,507.0 L1062.8,507.7 L1063.5,507.4 L1064.3,509.3 L1065.0,510.4 L1066.2,511.1 L1067.5,511.5 L1068.7,511.9 L1069.9,511.8 L1071.2,510.6 L1072.4,510.4 L1073.0,510.4 L1073.5,508.5 L1074.0,507.2 L1074.6,506.0 L1075.0,504.8 L1075.3,503.5 L1075.7,502.3 L1076.1,501.1 L1076.4,499.8 L1076.8,498.6 L1077.2,497.4 L1077.5,496.1 L1077.9,494.9 L1078.3,496.2 L1078.7,497.5 L1079.0,498.9 L1079.4,500.2 L1079.8,501.5 L1080.5,500.9 L1081.3,499.3 L1081.8,500.8 L1082.4,501.4 L1083.0,502.2 L1083.5,503.5 L1084.5,503.1 L1085.5,502.1 L1086.5,501.1 L1087.4,500.3 L1088.3,501.0 L1089.0,501.7 L1089.6,503.5 L1090.2,504.5 L1090.9,505.6 L1091.8,506.4 L1092.6,507.2 L1093.5,507.6 L1094.8,507.8 L1096.1,508.5 L1097.4,507.9 L1097.5,506.7 L1097.7,505.5 L1097.8,504.3 L1098.0,503.1 L1098.1,501.9 L1099.0,502.2 L1100.0,503.0 L1100.7,503.9 L1101.3,505.3 L1102.0,506.2 L1102.6,505.3 L1103.2,504.1 L1103.7,503.2 L1104.3,501.4 L1105.3,501.5 L1106.2,502.5 L1107.2,502.3 L1107.6,503.8 L1108.1,504.5 L1108.5,506.2 L1109.7,506.6 L1110.8,508.1 L1111.9,508.0 L1113.1,508.2 L1113.9,507.2 L1114.8,505.5 L1115.6,505.4 L1116.4,504.9 L1117.3,504.4 L1118.3,504.5 L1119.2,504.3 L1119.4,503.0 L1119.5,501.7 L1119.7,500.3 L1119.8,499.0 L1120.0,497.7 L1120.1,496.4 L1120.2,495.1 L1120.4,493.9 L1120.5,492.6 L1120.6,491.3 L1120.7,490.0 L1120.8,488.7 L1120.9,487.4 L1121.1,486.2 L1121.2,484.9 L1121.3,483.6 L1121.5,484.9 L1121.8,486.1 L1122.0,487.4 L1122.3,488.6 L1122.8,490.2 L1123.2,489.9 L1123.5,491.2 L1123.7,492.5 L1124.0,493.8 L1124.2,495.1 L1124.4,496.4 L1124.6,497.7 L1124.8,499.0 L1124.9,500.4 L1125.1,501.7 L1125.3,503.0 L1125.5,504.3 L1125.9,505.6 L1126.2,506.9 L1126.6,508.2 L1126.7,509.5 L1126.7,510.8 L1126.8,512.1 L1126.9,513.4 L1126.9,514.7 L1127.0,516.0 L1127.1,517.4 L1127.2,518.7 L1127.2,520.0 L1127.3,521.3 L1127.4,522.6 L1127.4,523.9 L1127.5,525.2 L1127.5,526.5 L1127.6,527.8 L1127.6,529.1 L1127.7,530.4 L1127.7,531.8 L1127.7,533.1 L1127.8,534.4 L1127.8,535.7 L1127.9,537.0 L1127.9,538.3 L1128.0,537.1 L1128.1,535.9 L1128.2,534.7 L1128.2,533.4 L1128.3,532.2 L1128.4,531.0 L1128.5,529.8 L1128.6,531.2 L1128.6,532.5 L1128.7,533.9 L1128.8,535.3 L1128.8,536.7 L1128.9,538.0 L1129.0,539.4 L1129.0,540.8 L1129.1,542.1 L1129.1,543.5 L1129.2,544.9 L1129.3,546.3 L1129.3,547.6 L1129.4,549.0 L1129.9,548.3 L1130.3,547.2 L1130.8,546.1 L1131.0,544.8 L1131.1,543.4 L1131.3,542.0 L1131.5,540.7 L1131.6,539.4 L1131.8,538.0 L1131.9,539.3 L1132.0,540.7 L1132.1,542.0 L1132.2,543.3 L1132.3,544.7 L1132.4,546.0 L1132.5,547.3 L1132.6,548.6 L1132.7,550.0 L1132.8,551.3 L1132.9,552.6 L1133.0,554.0 L1133.1,555.3 L1133.3,554.2 L1133.4,553.1 L1133.6,552.0 L1133.7,553.4 L1133.8,554.7 L1133.9,556.1 L1133.9,557.4 L1134.0,558.8 L1134.1,560.1 L1134.2,561.5 L1134.3,562.8 L1134.4,564.2 L1134.4,565.5 L1134.5,566.9 L1134.6,568.2 L1134.7,569.6 L1134.8,568.3 L1134.9,567.0 L1135.0,565.7 L1135.0,564.4 L1135.1,563.1 L1135.2,561.8 L1135.3,560.5 L1135.4,559.3 L1135.5,558.1 L1135.6,556.9 L1135.7,555.6 L1135.8,554.4 L1135.9,553.2 L1136.0,552.0 L1136.3,553.1 L1136.7,554.3 L1137.0,555.5 L1137.3,556.6 L1137.4,557.9 L1137.6,559.2 L1137.7,560.5 L1137.8,561.8 L1137.9,563.1 L1138.1,564.4 L1138.2,565.7 L1138.3,567.0 L1138.5,568.3 L1138.6,569.6 L1138.7,570.9 L1138.8,572.2 L1138.9,573.4 L1139.0,574.7 L1139.1,576.0 L1139.1,577.3 L1139.2,578.6 L1139.3,579.9 L1139.4,581.1 L1139.5,582.4 L1139.6,583.7 L1139.7,585.1 L1139.8,586.4 L1139.9,587.8 L1140.1,589.1 L1140.2,590.4 L1140.3,591.8 L1140.6,593.1 L1141.0,594.4 L1141.3,595.7 L1141.7,597.0 L1142.0,598.3 L1142.0,599.7 L1142.1,601.1 L1142.1,602.5 L1142.2,603.9 L1142.2,605.3 L1142.3,606.7 L1142.3,608.1 L1142.4,609.4 L1142.4,610.8 L1142.5,612.2 L1142.5,613.6 L1142.6,615.0 L1142.6,616.4 L1142.7,617.8 L1142.7,619.2 L1142.7,620.6 L1142.8,621.9 L1142.8,623.3 L1142.8,624.7 L1142.8,626.1 L1142.9,627.4 L1142.9,628.8 L1142.9,630.2 L1143.0,631.5 L1143.0,632.9 L1143.0,634.3 L1143.0,635.7 L1143.1,637.0 L1143.1,638.4 L1143.1,639.8 L1143.2,641.1 L1143.2,642.5 L1143.2,643.9 L1143.2,645.3 L1143.3,646.6 L1143.3,648.0 L1143.5,646.7 L1143.8,645.4 L1144.0,644.0 L1144.2,642.7 L1144.4,641.4 L1144.5,640.1 L1144.7,638.8 L1144.9,637.5 L1145.1,636.2 L1145.2,634.9 L1145.4,633.6 L1145.6,632.3 L1145.7,633.6 L1145.7,634.9 L1145.8,636.2 L1145.8,637.5 L1145.9,638.8 L1145.9,640.1 L1146.0,641.5 L1146.1,642.8 L1146.1,644.1 L1146.2,645.4 L1146.2,646.7 L1146.3,648.0 L1146.4,649.3 L1146.6,650.6 L1146.7,651.9 L1146.8,653.2 L1146.9,654.5 L1147.1,655.8 L1147.2,657.1 L1147.3,658.4 L1147.5,659.7 L1147.6,661.0 L1148.1,659.7 L1148.5,658.8 L1149.0,658.4 L1149.2,659.7 L1149.5,661.0 L1149.8,662.3 L1150.0,663.7 L1150.2,665.0 L1150.5,666.3 L1151.2,665.6 L1151.8,665.0 L1152.0,666.3 L1152.2,667.6 L1152.5,668.9 L1152.7,670.2 L1152.9,671.5 L1153.3,672.6 L1153.7,673.8 L1154.0,675.0 L1154.4,676.1 L1155.8,675.6 L1157.1,675.4 L1158.2,677.3 L1159.2,676.6 L1160.3,677.4 L1160.5,678.6 L1160.7,679.8 L1160.8,680.9 L1161.0,682.1 L1161.2,683.3 L1161.8,684.0 L1162.4,685.7 L1163.0,686.3 L1163.6,687.2 L1164.5,687.1 L1165.3,688.6 L1166.2,688.5 L1166.7,687.6 L1167.1,686.9 L1167.9,687.2 L1168.7,688.8 L1169.5,689.5 L1170.7,689.7 L1171.8,689.4 L1172.9,689.8 L1174.1,689.5 L1175.4,689.3 L1176.7,688.5 L1177.6,688.6 L1178.4,688.5 L1179.3,689.8 L1180.4,689.0 L1181.4,690.2 L1182.5,690.5" stroke="#12346c" stroke-width="2.15"/>
<path d="M99.2,368.1 L100.2,368.2 L101.1,368.5 L102.1,368.2 L103.0,367.4 L104.0,367.0 L105.3,367.0 L106.6,367.0 L107.9,367.1 L109.2,367.3 L110.5,367.3 L111.8,367.4 L113.0,367.3 L114.3,367.4 L115.6,367.4 L116.9,367.2 L118.2,367.6 L119.5,367.5 L120.8,367.5 L122.2,367.5 L123.5,367.2 L124.9,367.2 L126.2,367.3 L127.6,367.3 L128.9,367.3 L130.3,367.3 L131.6,367.3 L133.0,367.1 L134.3,367.2 L135.6,367.3 L137.0,367.3 L138.3,366.8 L139.7,367.8 L141.0,367.0 L142.3,367.1 L143.7,367.2 L145.1,367.0 L146.4,367.0 L147.8,367.1 L149.1,367.2 L150.1,367.7 L151.0,368.5 L152.0,368.8 L152.9,369.5 L153.8,369.9 L154.8,370.3 L155.7,371.3 L157.0,370.8 L158.3,371.2 L159.6,370.0 L160.9,370.0 L162.0,370.4 L163.1,370.7 L164.2,370.1 L165.3,371.0 L166.7,370.9 L168.0,371.0 L169.4,370.5 L170.8,370.7 L172.1,370.7 L173.5,370.6 L174.7,370.7 L175.9,371.6 L177.1,371.8 L178.1,372.3 L179.1,372.3 L180.1,373.5 L181.3,373.8 L182.5,373.7 L183.6,373.7 L184.8,373.9 L186.0,373.2 L187.2,373.5 L188.5,373.5 L189.7,373.1 L190.9,374.0 L192.2,373.6 L193.4,374.0 L194.5,374.4 L195.6,375.2 L196.5,375.4 L197.4,376.2 L198.4,377.1 L199.3,378.0 L200.5,378.5 L201.8,377.1 L203.0,378.0 L204.3,377.9 L205.6,379.1 L206.9,380.0 L208.2,379.9 L208.9,381.0 L209.7,380.8 L210.4,382.4 L211.7,381.5 L213.0,382.8 L214.4,382.5 L215.7,382.5 L217.0,383.1 L218.0,384.2 L219.0,384.9 L220.0,385.1 L221.1,385.1 L222.2,385.1 L223.3,385.1 L224.4,384.8 L225.1,386.5 L225.9,387.2 L226.6,388.3 L227.4,389.4 L228.1,390.2 L228.6,388.7 L229.1,389.0 L229.6,387.6 L230.3,388.9 L231.1,389.6 L231.8,389.4 L232.6,390.9 L233.3,392.0 L234.4,391.5 L235.5,389.6 L236.6,389.4 L237.7,388.7 L238.8,389.4 L239.9,388.7 L241.0,390.2 L242.1,389.8 L243.0,389.4 L243.9,388.5 L244.9,388.1 L245.8,387.3 L246.4,386.6 L246.9,385.5 L247.4,385.0 L248.0,383.6 L249.0,382.6 L250.0,381.9 L251.0,381.8 L252.0,380.6 L253.0,379.5 L254.0,379.1 L254.6,378.4 L255.1,377.5 L255.6,375.6 L256.2,374.7 L257.4,373.8 L258.7,374.0 L259.9,373.7 L260.4,372.6 L261.0,371.5 L261.6,371.1 L262.1,369.5 L262.7,370.3 L263.3,372.4 L263.8,372.6 L264.4,374.0 L265.0,375.5 L266.0,375.3 L267.0,375.0 L268.0,374.0 L268.7,375.3 L269.5,376.1 L270.2,376.9 L271.3,377.4 L272.4,377.9 L273.5,378.5 L274.6,378.7 L275.7,378.6 L276.8,378.8 L277.9,378.7 L278.3,377.8 L278.8,376.4 L279.2,375.6 L279.6,374.3 L280.1,373.8 L280.5,371.8 L281.3,373.1 L282.0,373.9 L282.8,375.2 L284.0,375.5 L285.3,376.1 L286.5,376.5 L287.7,376.4 L288.8,375.4 L290.0,375.0 L291.2,375.5 L292.4,376.4 L293.5,374.9 L294.7,375.8 L295.9,376.6 L296.6,377.9 L297.2,379.1 L297.9,380.2 L298.5,381.1 L299.2,382.4 L299.7,381.6 L300.1,380.3 L300.6,379.1 L302.0,378.9 L303.3,379.1 L303.9,379.4 L304.5,377.8 L305.1,376.9 L305.8,377.6 L306.5,378.7 L307.1,379.5 L307.8,380.5 L308.5,381.4 L309.4,380.8 L310.4,382.3 L311.3,383.5 L312.2,383.6 L313.1,384.0 L314.0,385.4 L314.9,386.8 L315.8,387.3 L316.2,388.6 L316.6,389.9 L316.9,391.1 L317.3,392.4 L318.4,392.4 L319.5,391.7 L320.2,393.4 L321.0,393.9 L321.9,392.4 L322.8,392.4 L323.4,393.3 L323.9,394.4 L324.5,395.9 L325.1,397.1 L325.6,396.6 L326.2,398.8 L327.1,399.3 L328.1,398.8 L328.4,397.4 L328.6,396.1 L328.9,394.8 L329.1,393.4 L329.4,392.1 L329.7,390.7 L329.9,389.4 L330.2,388.0 L330.6,389.2 L330.9,390.4 L331.3,391.7 L331.7,392.9 L332.4,391.7 L333.1,391.7 L334.3,392.3 L335.5,392.4 L335.9,391.2 L336.2,390.1 L336.6,388.9 L336.9,387.8 L337.3,386.6 L337.6,385.5 L338.0,384.3 L338.8,382.6 L339.5,382.2 L340.2,381.5 L341.0,379.9 L342.1,379.5 L343.3,379.2 L344.4,378.8 L344.8,380.3 L345.2,381.1 L345.6,382.1 L346.1,383.9 L346.5,384.8 L346.9,385.5 L348.1,385.1 L349.4,386.2 L350.6,384.8 L351.7,384.6 L352.8,385.8 L353.9,385.7 L355.0,386.1 L355.8,385.3 L356.5,384.7 L357.2,383.7 L358.0,382.8 L359.2,382.9 L360.4,381.9 L361.5,381.7 L362.7,382.5 L363.9,382.1 L365.1,382.3 L366.3,382.9 L367.5,384.0 L368.5,383.4 L369.5,384.5 L370.5,384.0 L371.4,384.8 L372.4,385.7 L373.3,385.2 L374.2,386.1 L374.9,387.1 L375.6,387.5 L376.4,389.3 L377.1,389.9 L378.2,390.0 L379.4,388.7 L380.5,388.6 L381.7,389.9 L382.8,389.5 L383.1,390.6 L383.3,391.7 L383.6,392.8 L383.8,393.9 L384.8,394.6 L385.8,394.4 L386.8,394.7 L387.4,392.8 L388.1,393.2 L388.7,391.5 L389.3,390.5 L389.7,391.4 L390.1,392.9 L390.4,394.0 L390.8,395.6 L391.2,396.1 L392.3,395.2 L393.4,395.6 L394.5,395.3 L395.6,394.2 L396.8,395.3 L398.1,395.2 L399.3,395.8 L400.4,395.3 L401.5,395.8 L402.6,395.2 L403.7,394.9 L405.0,395.0 L406.4,395.6 L407.7,394.9 L409.1,394.1 L410.4,395.1 L411.0,393.8 L411.7,392.1 L412.3,391.7 L413.1,391.5 L414.0,390.8 L414.8,390.2 L415.4,388.8 L416.1,387.8 L416.7,387.0 L417.3,385.5 L418.4,385.7 L419.5,386.3 L420.7,385.9 L421.8,386.5 L422.9,386.2 L424.1,386.8 L425.3,386.8 L426.4,385.9 L427.6,386.5 L428.8,386.1 L429.7,385.8 L430.6,386.6 L431.5,387.6 L432.7,386.6 L433.9,387.7 L435.0,386.6 L436.2,387.0 L436.4,388.4 L436.6,389.8 L436.7,391.1 L436.9,392.5 L437.1,393.9 L437.5,392.6 L437.8,391.4 L438.2,390.1 L438.5,388.9 L438.9,387.6 L439.4,388.8 L439.9,389.9 L440.5,391.2 L441.0,392.4 L441.5,391.0 L441.9,390.1 L442.4,389.6 L442.9,387.6 L443.6,388.8 L444.4,390.1 L445.1,391.0 L445.9,391.3 L446.6,390.7 L447.2,391.5 L447.9,392.0 L448.6,393.2 L449.2,394.4 L449.8,393.9 L450.4,391.9 L451.1,391.4 L451.7,390.7 L452.9,391.7 L454.2,392.2 L455.4,392.4 L456.6,392.3 L457.9,392.5 L459.1,392.0 L460.1,393.0 L461.1,393.4 L462.1,394.9 L463.3,394.1 L464.5,394.4 L465.6,395.0 L466.8,394.3 L468.0,394.4 L469.2,394.5 L470.5,395.0 L471.7,395.8 L472.9,395.1 L474.1,395.6 L475.2,395.1 L476.4,395.6 L477.6,395.4 L478.3,395.1 L479.1,397.0 L479.8,397.6 L480.9,397.7 L482.0,397.5 L483.1,399.0 L484.2,399.1 L484.9,400.2 L485.6,400.5 L486.2,402.3 L486.9,403.9 L487.6,405.0 L488.4,404.3 L489.2,404.3 L490.0,403.4 L491.1,404.0 L492.2,404.2 L493.3,404.4 L494.4,404.5 L495.3,404.4 L496.2,403.4 L497.2,402.6 L498.1,401.7 L499.3,401.2 L500.5,402.9 L501.6,403.5 L502.8,403.3 L504.0,403.8 L504.4,405.0 L504.9,406.6 L505.3,407.4 L505.7,408.9 L506.1,410.5 L506.6,411.3 L507.0,412.7 L507.6,412.0 L508.1,411.5 L508.6,409.6 L509.2,408.7 L510.3,408.8 L511.4,408.8 L512.5,407.9 L513.6,408.2 L514.2,409.4 L514.8,410.7 L515.5,412.0 L516.1,413.1 L516.7,414.3 L517.3,415.6 L518.3,414.8 L519.3,414.8 L520.3,414.6 L520.6,413.4 L520.9,412.1 L521.2,410.9 L521.6,409.7 L521.9,408.4 L522.2,407.2 L522.8,408.6 L523.4,409.2 L524.0,410.2 L524.4,408.8 L524.9,407.8 L525.3,408.2 L525.8,406.5 L526.2,405.0 L526.9,406.2 L527.7,405.8 L528.4,408.0 L529.1,408.7 L530.2,409.5 L531.4,410.5 L532.5,410.5 L533.6,410.9 L534.9,411.0 L536.2,411.4 L537.6,410.5 L538.9,411.9 L540.2,411.6 L541.5,412.2 L542.8,412.2 L544.1,413.5 L545.4,413.4 L546.1,413.6 L546.9,411.6 L547.6,411.6 L548.3,412.2 L549.1,413.5 L549.8,414.3 L550.5,413.4 L551.3,412.1 L552.0,411.3 L553.0,411.6 L554.1,413.5 L555.1,413.7 L556.2,413.4 L557.2,414.6 L558.3,413.5 L559.5,414.3 L560.6,413.1 L561.7,414.2 L562.8,415.3 L563.9,415.3 L564.9,415.1 L565.9,413.8 L567.0,413.7 L568.0,412.1 L569.0,412.4 L570.2,411.6 L571.4,411.5 L572.5,411.3 L573.7,410.3 L574.9,410.2 L576.1,410.7 L577.3,411.6 L578.4,412.1 L579.6,412.8 L580.8,413.1 L581.7,412.5 L582.6,411.5 L583.6,411.3 L584.5,410.2 L585.6,410.2 L586.7,410.2 L587.4,408.9 L588.0,407.9 L588.7,407.2 L590.1,407.0 L591.4,406.8 L592.8,406.7 L594.1,406.5 L595.1,405.6 L596.1,404.7 L597.1,403.7 L598.1,402.8 L599.2,402.5 L600.3,403.4 L601.5,403.8 L602.6,403.8 L603.7,403.8 L604.6,404.4 L605.5,405.3 L606.5,405.4 L607.4,406.5 L608.5,405.0 L609.6,405.2 L610.8,404.1 L611.9,403.8 L613.2,404.1 L614.5,403.2 L615.9,402.5 L617.2,403.1 L618.5,403.5 L619.9,403.6 L621.2,403.2 L622.5,403.0 L623.9,402.9 L625.2,403.0 L626.6,402.8 L627.6,404.0 L628.6,404.8 L629.6,405.7 L630.6,407.1 L631.5,407.5 L632.5,407.9 L633.7,408.1 L635.0,408.5 L636.2,409.1 L637.4,409.0 L638.7,409.2 L639.9,409.0 L640.6,407.6 L641.4,407.1 L642.1,406.5 L642.9,405.3 L643.5,406.0 L644.2,407.5 L644.8,407.9 L646.2,408.3 L647.5,408.5 L648.9,408.2 L650.3,408.4 L651.5,409.4 L652.7,408.7 L653.8,408.0 L655.0,408.0 L656.2,407.9 L656.3,409.2 L656.4,410.5 L656.5,411.8 L656.7,413.1 L656.8,414.4 L656.9,415.7 L657.0,417.1 L657.1,418.4 L657.2,419.7 L657.4,421.0 L657.5,422.3 L657.6,423.6 L657.7,424.9 L658.1,423.6 L658.4,422.4 L658.8,421.1 L659.1,419.8 L659.5,421.1 L659.9,422.4 L660.2,423.6 L660.6,424.9 L661.1,424.7 L661.5,422.2 L662.0,421.4 L662.5,419.8 L663.4,420.2 L664.3,419.8 L665.0,421.0 L665.8,421.7 L666.5,423.4 L667.3,424.5 L668.4,425.3 L669.5,425.7 L670.2,426.9 L671.0,427.9 L671.7,428.9 L672.5,430.0 L673.2,431.1 L673.9,432.1 L674.7,433.1 L675.4,434.1 L676.2,435.3 L676.9,436.3 L677.3,435.0 L677.6,433.8 L678.0,432.5 L678.4,431.2 L678.7,430.0 L679.1,428.7 L679.5,427.4 L679.8,426.2 L680.2,424.9 L680.5,426.3 L680.8,427.6 L681.1,429.0 L681.4,430.4 L681.7,431.7 L682.0,433.1 L682.4,431.9 L682.7,430.7 L683.1,429.5 L683.4,428.3 L683.8,427.1 L684.3,427.7 L684.8,428.9 L685.2,430.2 L685.7,430.6 L686.2,432.3 L687.0,431.0 L687.7,429.3 L688.5,428.8 L689.2,428.2 L690.0,426.9 L691.0,427.1 L692.0,426.9 L693.0,426.9 L693.5,425.9 L693.9,424.5 L694.4,424.2 L695.6,424.6 L696.9,423.6 L698.1,423.0 L698.5,422.4 L698.9,420.4 L699.2,419.6 L699.6,417.8 L700.0,417.5 L700.4,418.8 L700.8,420.1 L701.1,421.4 L701.5,422.7 L702.2,423.6 L703.0,423.9 L703.4,422.7 L703.8,421.4 L704.1,420.2 L704.5,419.0 L705.6,419.2 L706.6,417.7 L707.7,418.3 L708.8,418.0 L710.0,418.0 L711.1,416.7 L712.2,417.1 L713.4,416.4 L714.6,416.8 L715.7,417.1 L716.9,416.8 L718.1,417.5 L719.2,417.0 L720.3,416.5 L720.8,415.5 L721.4,414.5 L722.0,413.3 L722.5,411.9 L722.9,413.8 L723.4,414.8 L723.8,415.0 L724.3,416.6 L724.7,418.0 L725.1,416.9 L725.4,415.8 L725.8,414.6 L726.1,413.5 L726.5,412.4 L726.8,413.6 L727.1,414.8 L727.4,416.0 L727.8,417.3 L728.1,418.5 L728.4,419.7 L728.7,420.9 L729.3,419.5 L729.9,418.5 L730.5,418.0 L731.1,417.1 L731.7,416.1 L732.3,417.4 L732.9,417.6 L733.4,418.9 L734.0,420.5 L735.0,419.8 L736.0,418.9 L737.0,418.3 L737.8,419.0 L738.7,420.0 L739.5,420.9 L740.2,420.4 L741.0,420.5 L741.5,421.9 L742.0,422.8 L742.4,423.8 L742.9,424.9 L743.9,425.1 L744.9,425.8 L745.9,425.3 L746.9,426.9 L747.3,425.3 L747.7,424.6 L748.0,422.8 L748.4,422.4 L748.8,421.2 L750.0,421.1 L751.3,420.9 L751.7,422.1 L752.0,423.3 L752.4,424.5 L752.8,425.7 L752.9,427.0 L753.0,428.2 L753.1,429.5 L753.2,430.7 L753.3,432.0 L753.4,433.2 L753.5,434.5 L753.7,433.2 L754.0,431.9 L754.2,430.5 L754.5,429.2 L754.7,427.9 L755.1,428.3 L755.5,429.8 L755.8,430.8 L756.2,431.9 L757.0,431.6 L757.9,431.2 L758.7,430.4 L759.7,431.0 L760.6,431.6 L761.5,430.3 L762.4,429.8 L763.7,429.7 L765.0,429.7 L766.3,429.7 L767.5,429.6 L768.8,429.5 L770.1,429.3 L771.4,429.4 L772.7,429.4 L774.0,429.4 L775.3,429.5 L776.6,429.7 L777.9,429.8 L779.3,430.0 L780.6,430.1 L781.9,430.1 L783.2,430.6 L784.5,430.4 L785.6,429.9 L786.7,430.2 L787.8,429.4 L788.4,428.5 L789.1,427.9 L789.8,425.4 L790.4,425.4 L791.5,425.8 L792.7,426.9 L793.7,426.3 L794.6,425.8 L795.6,424.9 L796.2,427.0 L796.8,427.2 L797.4,428.7 L798.0,429.6 L798.6,430.4 L799.3,429.6 L800.1,428.3 L800.8,426.9 L801.5,426.9 L802.3,427.1 L803.4,426.5 L804.5,425.0 L805.6,425.2 L806.7,423.9 L808.0,423.2 L809.3,423.5 L810.7,424.1 L812.0,422.8 L813.3,422.7 L813.8,421.4 L814.2,420.5 L814.7,418.8 L815.1,417.1 L815.6,416.1 L815.8,417.5 L816.1,418.8 L816.3,420.1 L816.5,421.5 L816.8,422.9 L817.0,424.2 L818.0,425.3 L819.0,426.4 L820.0,427.1 L821.2,427.6 L822.4,427.1 L823.5,428.3 L824.7,428.4 L825.9,427.9 L827.0,428.2 L828.0,428.7 L829.1,428.9 L829.9,427.7 L830.7,427.4 L831.5,425.7 L832.8,425.1 L834.2,425.4 L835.5,424.9 L836.6,424.0 L837.7,423.2 L838.8,423.0 L839.9,422.0 L840.9,421.9 L842.0,420.6 L843.0,419.7 L844.1,419.6 L845.1,418.6 L845.8,419.5 L846.5,420.6 L847.1,422.1 L847.8,422.4 L848.6,421.9 L849.5,420.5 L850.6,421.0 L851.7,422.0 L852.8,422.4 L854.0,420.9 L855.1,420.7 L856.2,419.8 L856.6,418.3 L857.1,417.4 L857.5,415.5 L858.0,415.8 L858.4,413.9 L859.0,415.6 L859.5,415.6 L860.0,416.6 L860.6,418.3 L861.0,416.6 L861.5,416.7 L861.9,415.0 L862.4,414.1 L862.8,413.1 L863.8,412.2 L864.8,411.6 L865.8,410.9 L867.0,410.8 L868.3,411.6 L869.5,411.9 L870.8,411.5 L872.0,411.5 L873.3,411.3 L874.5,411.2 L875.8,410.9 L877.0,410.6 L878.3,410.5 L879.0,411.4 L879.8,412.0 L880.5,413.1 L881.1,414.9 L881.6,415.6 L882.2,416.4 L882.8,417.5 L883.3,416.4 L883.9,415.4 L884.5,414.4 L885.0,413.9 L885.7,413.0 L886.5,412.5 L887.2,411.6 L888.1,412.3 L889.1,412.8 L890.0,413.1 L890.6,415.1 L891.2,415.1 L891.8,416.5 L892.3,415.4 L892.8,415.4 L893.4,412.4 L893.9,411.8 L894.4,410.9 L895.5,410.8 L896.6,410.6 L897.7,411.1 L898.9,411.7 L900.0,411.8 L901.1,412.4 L902.0,411.7 L902.9,410.6 L903.7,410.0 L904.6,408.0 L905.5,407.9 L906.2,408.4 L907.0,409.7 L907.7,410.6 L908.2,409.4 L908.7,408.6 L909.2,408.2 L910.0,409.1 L910.7,409.4 L911.3,408.1 L911.9,407.6 L912.4,406.7 L913.0,405.4 L913.6,404.3 L914.7,403.8 L915.8,402.8 L916.1,401.6 L916.4,400.4 L916.7,399.3 L917.0,398.1 L917.3,396.9 L918.5,397.6 L918.6,399.0 L918.7,400.4 L918.8,401.8 L918.9,403.2 L919.0,404.5 L919.1,405.9 L919.2,407.3 L919.2,408.7 L919.3,410.1 L919.4,411.5 L919.5,412.9 L919.6,414.2 L919.7,415.6 L919.8,417.0 L919.9,418.4 L920.0,419.8 L920.3,418.5 L920.6,417.1 L920.9,415.8 L921.2,414.5 L921.6,413.1 L921.9,411.8 L922.2,410.4 L922.5,409.1 L923.0,410.4 L923.5,411.5 L924.0,413.0 L924.5,414.4 L924.9,415.6 L925.4,417.0 L925.9,418.4 L926.4,419.5 L926.9,420.9 L927.6,419.8 L928.3,418.7 L929.0,417.2 L929.6,416.1 L930.3,414.8 L931.0,413.8 L931.7,412.4 L932.7,411.9 L933.6,411.2 L933.9,410.0 L934.1,408.7 L934.4,407.5 L934.7,406.2 L935.0,405.0 L935.2,403.8 L935.5,402.5 L935.8,401.3 L936.0,402.6 L936.2,403.8 L936.4,405.1 L936.7,406.4 L936.9,407.7 L937.1,408.9 L937.3,410.2 L938.1,409.6 L939.0,408.2 L940.1,408.5 L941.2,409.4 L942.4,410.0 L943.5,410.6 L944.4,409.1 L945.2,409.8 L946.0,408.8 L946.9,407.7 L947.5,407.9 L948.0,410.0 L948.5,410.6 L949.1,411.6 L950.5,411.9 L951.8,412.0 L953.2,411.9 L953.7,410.3 L954.1,409.8 L954.5,409.5 L955.0,407.9 L956.1,407.1 L957.1,406.3 L958.2,406.2 L958.8,404.5 L959.4,403.4 L960.0,403.0 L960.6,401.7 L961.7,402.1 L962.8,401.3 L963.9,400.9 L964.6,401.9 L965.3,403.6 L966.1,403.3 L966.8,404.1 L967.5,405.3 L968.4,406.3 L969.3,407.1 L970.2,407.2 L971.1,407.8 L972.0,409.1 L973.1,409.2 L974.3,409.2 L975.4,409.1 L975.8,407.5 L976.2,407.0 L976.7,405.8 L977.1,405.0 L978.1,405.4 L979.1,405.4 L980.1,405.7 L980.8,406.4 L981.6,407.0 L982.3,407.9 L983.5,408.4 L984.8,408.7 L986.0,408.2 L986.9,407.3 L987.8,407.2 L988.6,405.8 L989.5,405.4 L990.4,404.7 L991.3,404.3 L992.2,404.0 L993.2,402.5 L994.1,402.0 L995.2,402.0 L996.4,402.1 L997.5,401.4 L998.6,402.0 L999.3,402.8 L1000.1,403.2 L1000.8,404.3 L1001.9,404.6 L1003.0,404.2 L1004.1,404.0 L1005.2,405.0 L1005.8,405.9 L1006.3,407.0 L1006.9,407.5 L1007.4,408.7 L1007.8,408.0 L1008.1,406.4 L1008.5,405.1 L1008.9,404.4 L1009.2,402.5 L1009.6,402.0 L1010.0,400.8 L1010.4,399.5 L1010.8,398.3 L1011.5,398.8 L1012.3,399.8 L1012.8,398.8 L1013.2,398.2 L1013.6,396.7 L1014.1,395.8 L1015.0,395.5 L1015.8,394.6 L1016.7,394.4 L1018.0,394.9 L1019.4,395.8 L1020.7,395.4 L1021.4,396.2 L1022.2,398.7 L1022.9,398.8 L1024.0,398.3 L1025.2,398.3 L1025.9,397.2 L1026.7,396.2 L1027.4,395.4 L1028.1,393.9 L1028.8,393.0 L1029.6,393.2 L1030.1,391.1 L1030.6,391.1 L1031.0,390.0 L1031.5,388.7 L1032.0,388.4 L1032.5,386.1 L1033.7,386.2 L1035.0,386.2 L1036.2,386.1 L1036.9,387.1 L1037.7,387.5 L1038.4,388.0 L1039.2,388.5 L1039.9,387.6 L1040.2,388.6 L1040.5,389.6 L1040.7,390.7 L1041.0,391.7 L1042.1,390.4 L1043.3,390.1 L1044.4,389.5 L1045.5,387.9 L1046.6,389.6 L1047.7,389.0 L1048.8,389.0 L1049.5,390.4 L1050.3,391.0 L1050.7,393.0 L1051.2,393.2 L1051.6,394.1 L1052.1,395.1 L1052.5,396.4 L1053.2,394.9 L1054.0,393.9 L1054.7,393.4 L1055.4,392.0 L1056.6,392.1 L1057.8,392.2 L1058.9,392.2 L1060.1,392.7 L1061.3,392.4 L1062.0,391.7 L1062.8,390.6 L1063.5,390.0 L1064.3,388.8 L1065.0,388.0 L1066.2,387.0 L1067.5,387.6 L1068.7,386.5 L1069.9,387.2 L1071.2,387.1 L1072.4,388.0 L1073.0,389.6 L1073.5,390.3 L1074.0,390.6 L1074.6,392.4 L1075.0,393.6 L1075.3,394.9 L1075.7,396.1 L1076.1,397.3 L1076.4,398.6 L1076.8,399.8 L1077.2,401.0 L1077.5,402.3 L1077.9,403.5 L1078.3,402.2 L1078.7,400.9 L1079.0,399.5 L1079.4,398.2 L1079.8,396.9 L1080.5,398.7 L1081.3,399.1 L1081.8,398.2 L1082.4,397.4 L1083.0,396.0 L1083.5,394.9 L1084.5,395.6 L1085.5,395.8 L1086.5,397.3 L1087.4,397.8 L1088.3,397.4 L1089.0,396.3 L1089.6,395.0 L1090.2,394.1 L1090.9,392.8 L1091.8,392.2 L1092.6,391.8 L1093.5,390.8 L1094.8,390.5 L1096.1,390.6 L1097.4,390.5 L1097.5,391.7 L1097.7,392.9 L1097.8,394.1 L1098.0,395.3 L1098.1,396.5 L1099.0,395.1 L1100.0,395.4 L1100.7,394.2 L1101.3,393.6 L1102.0,392.2 L1102.6,394.0 L1103.2,394.4 L1103.7,395.7 L1104.3,397.0 L1105.3,397.4 L1106.2,396.3 L1107.2,396.1 L1107.6,395.1 L1108.1,394.2 L1108.5,392.2 L1109.7,391.7 L1110.8,391.7 L1111.9,390.4 L1113.1,390.2 L1113.9,391.1 L1114.8,391.8 L1115.6,392.7 L1116.4,393.5 L1117.3,394.2 L1118.3,394.9 L1119.2,394.1 L1119.4,395.4 L1119.5,396.7 L1119.7,398.1 L1119.8,399.4 L1120.0,400.7 L1120.1,402.0 L1120.2,403.3 L1120.4,404.5 L1120.5,405.8 L1120.6,407.1 L1120.7,408.4 L1120.8,409.7 L1120.9,411.0 L1121.1,412.2 L1121.2,413.5 L1121.3,414.8 L1121.5,413.6 L1121.8,412.3 L1122.0,411.1 L1122.3,409.8 L1122.8,408.9 L1123.2,408.5 L1123.5,407.2 L1123.7,405.9 L1124.0,404.6 L1124.2,403.3 L1124.4,402.0 L1124.6,400.7 L1124.8,399.4 L1124.9,398.0 L1125.1,396.7 L1125.3,395.4 L1125.5,394.1 L1125.9,392.8 L1126.2,391.5 L1126.6,390.2 L1126.7,388.9 L1126.7,387.6 L1126.8,386.3 L1126.9,385.0 L1126.9,383.7 L1127.0,382.4 L1127.1,381.0 L1127.2,379.7 L1127.2,378.4 L1127.3,377.1 L1127.4,375.8 L1127.4,374.5 L1127.5,373.2 L1127.5,371.9 L1127.6,370.6 L1127.6,369.3 L1127.7,368.0 L1127.7,366.6 L1127.7,365.3 L1127.8,364.0 L1127.8,362.7 L1127.9,361.4 L1127.9,360.1 L1128.0,361.3 L1128.1,362.5 L1128.2,363.7 L1128.2,365.0 L1128.3,366.2 L1128.4,367.4 L1128.5,368.6 L1128.6,367.2 L1128.6,365.9 L1128.7,364.5 L1128.8,363.1 L1128.8,361.7 L1128.9,360.4 L1129.0,359.0 L1129.0,357.6 L1129.1,356.3 L1129.1,354.9 L1129.2,353.5 L1129.3,352.1 L1129.3,350.8 L1129.4,349.4 L1129.9,350.1 L1130.3,351.5 L1130.8,352.3 L1131.0,353.6 L1131.1,355.0 L1131.3,356.4 L1131.5,357.7 L1131.6,359.0 L1131.8,360.4 L1131.9,359.1 L1132.0,357.7 L1132.1,356.4 L1132.2,355.1 L1132.3,353.7 L1132.4,352.4 L1132.5,351.1 L1132.6,349.8 L1132.7,348.4 L1132.8,347.1 L1132.9,345.8 L1133.0,344.4 L1133.1,343.1 L1133.3,344.2 L1133.4,345.3 L1133.6,346.4 L1133.7,345.0 L1133.8,343.7 L1133.9,342.3 L1133.9,341.0 L1134.0,339.6 L1134.1,338.3 L1134.2,336.9 L1134.3,335.6 L1134.4,334.2 L1134.4,332.9 L1134.5,331.5 L1134.6,330.2 L1134.7,328.8 L1134.8,330.1 L1134.9,331.4 L1135.0,332.7 L1135.0,334.0 L1135.1,335.3 L1135.2,336.6 L1135.3,337.9 L1135.4,339.1 L1135.5,340.3 L1135.6,341.5 L1135.7,342.8 L1135.8,344.0 L1135.9,345.2 L1136.0,346.4 L1136.3,345.2 L1136.7,344.1 L1137.0,342.9 L1137.3,341.8 L1137.4,340.5 L1137.6,339.2 L1137.7,337.9 L1137.8,336.6 L1137.9,335.3 L1138.1,334.0 L1138.2,332.7 L1138.3,331.4 L1138.5,330.1 L1138.6,328.8 L1138.7,327.4 L1138.7,326.0 L1138.8,324.6 L1138.8,323.2 L1138.9,321.9 L1138.9,320.5 L1139.0,319.1 L1139.0,317.7 L1139.1,316.3 L1139.1,314.9 L1139.2,313.5 L1139.2,312.1 L1139.3,310.7 L1139.3,309.3 L1139.4,308.0 L1139.4,306.6 L1139.5,305.2 L1139.5,303.8 L1139.6,302.4 L1139.7,303.7 L1139.8,305.0 L1139.8,306.4 L1139.9,307.7 L1140.0,309.0 L1140.1,310.3 L1140.1,311.7 L1140.2,313.0 L1140.3,314.3 L1140.4,315.6 L1140.4,317.0 L1140.5,318.3 L1140.6,319.6 L1140.7,318.2 L1140.8,316.9 L1140.8,315.6 L1140.9,314.2 L1141.0,312.9 L1141.1,311.5 L1141.2,310.2 L1141.2,308.8 L1141.3,307.4 L1141.4,306.1 L1141.5,304.8 L1141.6,303.4 L1141.7,302.1 L1141.7,300.7 L1141.8,299.4 L1141.9,298.0 L1141.9,296.7 L1142.0,295.4 L1142.0,294.2 L1142.1,292.9 L1142.1,291.6 L1142.2,290.3 L1142.2,289.1 L1142.3,287.8 L1142.3,286.5 L1142.4,285.1 L1142.4,283.7 L1142.5,282.3 L1142.5,280.9 L1142.6,279.5 L1142.6,278.2 L1142.7,276.8 L1142.8,275.4 L1142.8,274.0 L1142.9,272.6 L1142.9,271.2 L1143.0,269.8 L1143.0,268.4 L1143.1,267.0 L1143.1,265.6 L1143.2,264.2 L1143.3,262.8 L1143.3,261.5 L1143.4,260.1 L1143.4,258.7 L1143.5,257.3 L1143.5,255.9 L1143.6,254.5 L1144.0,255.0 L1144.5,256.4 L1144.6,257.6 L1144.8,258.8 L1144.9,260.1 L1145.0,261.3 L1145.1,262.5 L1145.2,263.8 L1145.4,265.0 L1145.5,266.2 L1145.6,264.8 L1145.7,263.5 L1145.7,262.1 L1145.8,260.8 L1145.9,259.4 L1146.0,258.1 L1146.0,256.8 L1146.1,255.4 L1146.2,254.1 L1146.3,252.7 L1146.4,251.3 L1146.4,250.0 L1146.5,248.7 L1146.6,247.3 L1146.7,246.1 L1146.8,244.9 L1146.9,243.6 L1147.0,242.4 L1147.2,241.2 L1147.3,239.9 L1147.4,238.7 L1147.5,237.5 L1147.8,238.7 L1148.0,239.9 L1148.3,241.0 L1148.5,242.2 L1148.8,243.4 L1149.0,242.2 L1149.2,241.0 L1149.4,239.8 L1149.7,238.6 L1149.9,237.4 L1150.1,236.2 L1150.5,234.9 L1150.9,233.6 L1151.4,232.2 L1151.8,230.9 L1152.1,232.0 L1152.4,233.1 L1152.7,234.2 L1152.9,232.9 L1153.0,231.6 L1153.2,230.3 L1153.3,229.0 L1153.5,227.7 L1153.6,226.3 L1153.8,225.0 L1153.9,223.7 L1154.1,222.4 L1154.2,221.1 L1154.4,219.8 L1155.1,221.0 L1155.7,222.0 L1156.3,222.7 L1157.0,223.8 L1157.7,223.2 L1158.5,221.5 L1159.2,221.6 L1159.9,220.5 L1160.2,219.3 L1160.5,218.1 L1160.8,216.9 L1161.0,215.6 L1161.3,214.4 L1161.6,213.2 L1161.9,212.0 L1162.8,210.7 L1163.6,210.4 L1164.5,210.0 L1164.8,211.2 L1165.2,212.3 L1165.5,213.4 L1165.8,214.6 L1166.1,213.4 L1166.4,212.3 L1166.8,211.2 L1167.1,210.0 L1168.2,209.3 L1169.4,208.9 L1170.5,208.9 L1171.7,208.1 L1173.0,208.3 L1174.3,208.3 L1175.6,208.7 L1176.5,208.4 L1177.5,207.7 L1178.4,209.0 L1179.2,209.0 L1180.1,209.6 L1181.1,209.6 L1182.1,209.3" stroke="#a61f17" stroke-width="2.15"/>
</g>
<!-- text -->
<text id="t1" class="serif b" x="13.23" y="77.7" font-size="59.5" fill="#222" textLength="73.9" lengthAdjust="spacingAndGlyphs">US</text>
<text id="t2" class="serif b" x="105.5" y="77.7" font-size="56" fill="#222" textLength="270.84" lengthAdjust="spacingAndGlyphs">presidential</text>
<text id="t3" class="serif b" x="392.5" y="77.7" font-size="56" fill="#222" textLength="183.75" lengthAdjust="spacingAndGlyphs">election</text>
<text id="s1" class="serif" x="15.4" y="147.8" font-size="37" fill="#111" stroke="#111" stroke-width="0.3" textLength="105.41" lengthAdjust="spacingAndGlyphs">Winner</text>
<text id="s2" class="serif" x="132.9" y="147.8" font-size="37" fill="#111" stroke="#111" stroke-width="0.3" textLength="174.68" lengthAdjust="spacingAndGlyphs">probabilities</text>
<text id="s3" class="serif" x="316.67" y="147.8" font-size="37" fill="#111" stroke="#111" stroke-width="0.3" textLength="67.13" lengthAdjust="spacingAndGlyphs">from</text>
<text id="s4" class="serif" x="394.46" y="147.8" font-size="37" fill="#111" stroke="#111" stroke-width="0.3" textLength="168.44" lengthAdjust="spacingAndGlyphs">Polymarket,</text>
<text id="s5" class="serif" x="573.5" y="147.8" font-size="37" fill="#111" stroke="#111" stroke-width="0.3" textLength="27.07" lengthAdjust="spacingAndGlyphs">to</text>
<text id="s6" class="serif b" x="610.87" y="147.8" font-size="37" fill="#111" textLength="66.54" lengthAdjust="spacingAndGlyphs">9.10</text>
<text id="s7" class="serif b" x="687.74" y="147.8" font-size="37" fill="#111" textLength="65.06" lengthAdjust="spacingAndGlyphs">a.m.</text>
<text id="y80" class="" x="14.18" y="293.7" font-size="30" fill="#a3a3a3" stroke="#a3a3a3" stroke-width="0.45" stroke-linejoin="round" textLength="30.65" lengthAdjust="spacingAndGlyphs">80</text>
<text id="y80p" class="" x="45.96" y="293.7" font-size="30" fill="#a3a3a3" stroke="#a3a3a3" stroke-width="0.45" stroke-linejoin="round" textLength="19.74" lengthAdjust="spacingAndGlyphs">%</text>
<text id="y60" class="" x="14.69" y="390.7" font-size="30" fill="#a3a3a3" stroke="#a3a3a3" stroke-width="0.45" stroke-linejoin="round" textLength="30.23" lengthAdjust="spacingAndGlyphs">60</text>
<text id="y40" class="" x="15.0" y="487.7" font-size="30" fill="#a3a3a3" stroke="#a3a3a3" stroke-width="0.45" stroke-linejoin="round" textLength="29.91" lengthAdjust="spacingAndGlyphs">40</text>
<text id="y20" class="" x="14.38" y="584.7" font-size="30" fill="#a3a3a3" stroke="#a3a3a3" stroke-width="0.45" stroke-linejoin="round" textLength="30.54" lengthAdjust="spacingAndGlyphs">20</text>
<text id="y0" class="" x="14.45" y="681.7" font-size="30" fill="#a3a3a3" stroke="#a3a3a3" stroke-width="0.45" stroke-linejoin="round" textLength="14.24" lengthAdjust="spacingAndGlyphs">0</text>
<text id="r1" class="b" x="1200.0" y="220.0" font-size="29" fill="#a61f17" stroke="#a61f17" stroke-width="0.55" stroke-linejoin="round" textLength="88.44" lengthAdjust="spacingAndGlyphs">Donald</text>
<text id="r2" class="b" x="1201.1" y="259.2" font-size="29" fill="#a61f17" stroke="#a61f17" stroke-width="0.55" stroke-linejoin="round" textLength="80.35" lengthAdjust="spacingAndGlyphs">Trump</text>
<text id="r3" class="" x="1199.94" y="298.1" font-size="29" fill="#a61f17" stroke="#a61f17" stroke-width="0.45" stroke-linejoin="round" textLength="54.18" lengthAdjust="spacingAndGlyphs">99.4</text>
<text id="r3p" class="" x="1255.03" y="298.1" font-size="29" fill="#a61f17" stroke="#a61f17" stroke-width="0.45" stroke-linejoin="round" textLength="19.88" lengthAdjust="spacingAndGlyphs">%</text>
<text id="b1" class="b" x="1200.61" y="701.1" font-size="29" fill="#12346c" stroke="#12346c" stroke-width="0.55" stroke-linejoin="round" textLength="91.91" lengthAdjust="spacingAndGlyphs">Kamala</text>
<text id="b2" class="b" x="1200.59" y="740.0" font-size="29" fill="#12346c" stroke="#12346c" stroke-width="0.55" stroke-linejoin="round" textLength="86.54" lengthAdjust="spacingAndGlyphs">Harrris</text>
<text id="b3" class="" x="1200.05" y="778.9" font-size="29" fill="#12346c" stroke="#12346c" stroke-width="0.45" stroke-linejoin="round" textLength="38.43" lengthAdjust="spacingAndGlyphs">0.3</text>
<text id="b3p" class="" x="1239.24" y="778.9" font-size="29" fill="#12346c" stroke="#12346c" stroke-width="0.45" stroke-linejoin="round" textLength="19.66" lengthAdjust="spacingAndGlyphs">%</text>
<text id="f1" class="" x="14.8" y="821.3" font-size="26.5" fill="#7a7a7a" stroke="#7a7a7a" stroke-width="0.45" stroke-linejoin="round" textLength="262.54" lengthAdjust="spacingAndGlyphs">At five-minute intervals</text>
<text id="f2" class="" x="13.83" y="867.0" font-size="26.5" fill="#7a7a7a" stroke="#7a7a7a" stroke-width="0.45" stroke-linejoin="round" textLength="330.26" lengthAdjust="spacingAndGlyphs">Chart: The Spectator (rDfHF)</text>
<text id="f4" class="" x="365.94" y="867.0" font-size="26.5" fill="#7a7a7a" stroke="#7a7a7a" stroke-width="0.45" stroke-linejoin="round" textLength="221.75" lengthAdjust="spacingAndGlyphs">Source: Polymarket</text>
<text id="f6" class="" x="611.35" y="867.0" font-size="26.5" fill="#c4201d" stroke="#c4201d" stroke-width="0.45" stroke-linejoin="round" textLength="138.4" lengthAdjust="spacingAndGlyphs">Get the data</text>
<text id="x0" class="" x="148.3" y="739.9" font-size="30" fill="#7a7a7a" stroke="#7a7a7a" stroke-width="0.45" stroke-linejoin="round" textLength="108.08" lengthAdjust="spacingAndGlyphs">Thu 31st</text>
<text id="x1" class="" x="316.24" y="739.9" font-size="30" fill="#7a7a7a" stroke="#7a7a7a" stroke-width="0.45" stroke-linejoin="round" textLength="77.34" lengthAdjust="spacingAndGlyphs">Fri 1st</text>
<text id="x2" class="" x="460.76" y="739.9" font-size="30" fill="#7a7a7a" stroke="#7a7a7a" stroke-width="0.45" stroke-linejoin="round" textLength="96.92" lengthAdjust="spacingAndGlyphs">Sat 2nd</text>
<text id="x3" class="" x="614.98" y="739.9" font-size="30" fill="#7a7a7a" stroke="#7a7a7a" stroke-width="0.45" stroke-linejoin="round" textLength="96.16" lengthAdjust="spacingAndGlyphs">Sun 3rd</text>
<text id="x4" class="" x="764.18" y="739.9" font-size="30" fill="#7a7a7a" stroke="#7a7a7a" stroke-width="0.45" stroke-linejoin="round" textLength="103.93" lengthAdjust="spacingAndGlyphs">Mon 4th</text>
<text id="x5" class="" x="924.0" y="739.9" font-size="30" fill="#7a7a7a" stroke="#7a7a7a" stroke-width="0.45" stroke-linejoin="round" textLength="93.57" lengthAdjust="spacingAndGlyphs">Tue 5th</text>
<text id="x6" class="" x="1072.9" y="739.9" font-size="30" fill="#7a7a7a" stroke="#7a7a7a" stroke-width="0.45" stroke-linejoin="round" textLength="101.94" lengthAdjust="spacingAndGlyphs">Wed 6th</text>
<circle cx="354.8" cy="857.2" r="2.7" fill="#7a7a7a"/>
<circle cx="600.3" cy="857.2" r="2.7" fill="#7a7a7a"/>
<!-- logo -->
<g id="logo" transform="translate(1230,785) scale(0.10896)" fill="#c4262a">
<path d="M552,182 C500,168 460,163 420,163 C330,163 236,215 236,310 C236,405 305,447 385,479 C465,511 522,547 522,622 C524,690 470,732 400,732 C320,732 270,660 248,530 L238,530 L238,715 C290,740 340,752 395,752 C500,752 587,690 587,585 C587,486 525,441 435,403 C355,369 292,341 292,280 C290,215 340,180 400,180 C470,180 520,240 541,365 L552,365 Z"/>
</g>
</svg>
</body></html>
